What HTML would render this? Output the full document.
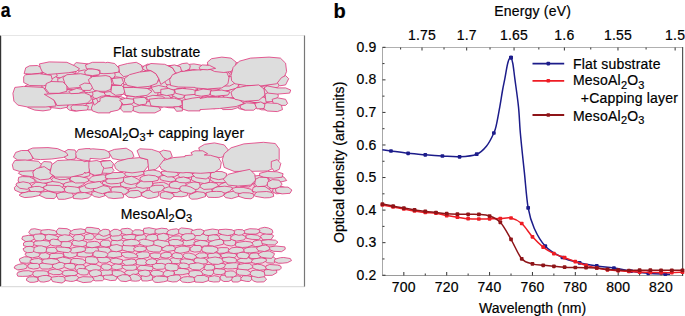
<!DOCTYPE html>
<html><head><meta charset="utf-8"><style>
html,body{margin:0;padding:0;background:#fff;width:685px;height:316px;overflow:hidden}
svg{display:block}
text{font-family:"Liberation Sans",sans-serif;font-size:14px;letter-spacing:0.2px;fill:#000;stroke:#000;stroke-width:0.2px}
</style></head><body>
<svg width="685" height="316" viewBox="0 0 685 316">
<text transform="translate(0.7,17.4) scale(0.88,1)" style="font-weight:bold;font-size:20px">a</text><path d="M0.6,35.5V286.6" stroke="#333" stroke-width="1.2"/><path d="M0.8,35.5H304.5" stroke="#e6e6e6" stroke-width="1"/><path d="M0.8,286.6H304.5" stroke="#ddd" stroke-width="1.2"/><path d="M304.5,35.5V286.6" stroke="#777" stroke-width="1.2"/><path d="M14.6,187.7 15.1,190.1 20.0,192.6 20.2,193.9 19.5,195.0 20.9,196.2 24.8,197.4 32.0,196.8 39.2,195.2 46.0,198.1 54.0,198.4 55.5,197.1 56.6,197.0 57.7,197.6 58.5,199.1 64.6,199.1 72.0,197.3 73.0,197.6 73.6,198.3 81.7,198.9 88.6,197.8 90.9,195.4 92.0,195.0 94.3,196.3 99.3,197.3 105.7,195.6 108.4,197.6 114.0,198.4 123.0,197.6 123.8,195.6 125.2,194.9 126.2,195.2 128.4,197.0 134.0,197.7 141.8,195.9 147.9,198.2 151.2,198.0 159.1,196.0 160.2,196.4 160.8,197.5 170.3,199.0 174.1,196.3 181.8,196.6 187.6,195.5 188.7,195.9 189.3,197.3 191.8,199.0 197.1,198.8 206.3,196.0 207.5,196.3 208.3,197.1 214.9,197.3 218.8,197.1 223.2,195.7 224.4,196.1 225.6,197.4 231.5,198.4 238.6,196.3 245.0,198.2 250.9,198.6 254.9,196.1 264.5,197.7 269.3,197.5 273.5,196.2 273.4,194.5 274.4,193.3 275.4,193.2 276.5,193.6 282.1,193.1 286.4,191.1 287.9,188.8 282.1,186.7 275.5,187.9 274.0,187.2 273.4,183.5 274.3,182.0 275.3,181.8 277.8,182.2 286.4,180.4 283.9,177.3 278.0,175.4 268.5,176.4 267.9,177.2 266.8,177.4 260.5,175.5 252.8,176.4 249.8,178.0 244.3,175.9 233.1,176.7 227.6,178.4 226.6,178.0 225.9,177.0 226.4,173.6 222.0,171.8 215.3,171.6 210.9,173.2 203.9,171.3 196.3,171.9 192.9,173.5 187.1,171.9 180.9,172.3 178.6,173.8 177.6,173.5 175.9,172.0 168.3,170.9 160.6,172.0 152.9,170.0 148.8,170.4 143.4,171.8 139.6,169.9 128.3,171.2 124.4,173.1 123.0,172.7 113.2,172.8 108.4,174.2 106.8,173.3 106.7,171.1 101.5,170.2 95.6,170.6 91.9,173.9 90.7,173.7 89.9,172.9 84.7,172.2 76.8,173.0 73.6,175.5 72.6,175.8 71.2,175.2 70.5,173.1 67.0,172.2 61.5,171.7 56.0,172.8 49.5,170.6 40.8,170.7 38.2,172.0 32.9,170.8 25.5,170.4 20.0,171.8 18.7,173.3 20.5,174.4 20.9,176.1 20.1,177.0 18.9,177.4 18.1,182.3 17.0,183.2 15.9,186.2 14.6,187.7Z" fill="#f2d2de"/><path d="M14.3,267.9 17.7,269.7 18.3,270.5 18.4,271.7 17.1,274.1 18.0,276.0 25.9,276.3 26.9,277.5 26.7,280.2 29.8,282.1 33.9,282.1 38.7,280.9 40.2,281.6 43.9,281.9 49.3,280.8 50.9,279.9 52.0,280.3 52.7,281.3 62.0,282.8 65.8,280.5 70.5,281.2 73.4,281.1 76.1,280.2 83.3,282.4 91.0,281.8 92.6,280.4 93.5,280.1 95.5,280.7 102.5,280.5 103.8,279.2 104.9,278.9 110.8,280.4 115.7,280.0 116.3,279.1 117.5,278.6 118.5,279.0 121.0,280.9 125.9,281.4 130.1,280.0 131.7,280.7 135.6,281.0 139.1,280.6 140.6,279.7 141.6,279.9 142.3,280.7 147.1,280.8 151.9,279.8 153.1,280.2 154.6,282.0 158.1,282.3 167.3,280.7 172.8,281.8 176.7,281.5 179.6,279.9 180.6,280.2 182.5,281.8 187.5,282.4 190.2,282.3 193.8,281.4 195.2,281.9 203.0,282.2 208.2,280.6 213.8,281.8 218.7,281.6 221.1,280.2 224.0,281.3 228.8,281.2 230.9,280.3 232.0,280.7 232.7,281.8 238.1,281.8 241.4,280.2 246.3,281.2 249.3,281.3 250.9,280.1 251.9,279.8 254.0,281.0 257.0,281.9 263.5,281.7 264.7,281.1 266.3,279.1 265.0,277.3 265.5,275.6 266.7,275.2 272.2,275.1 276.6,272.6 276.6,271.2 277.1,270.3 279.5,269.7 281.1,268.0 280.0,265.0 280.6,263.4 287.3,262.5 291.2,260.5 290.2,258.7 283.7,257.7 280.4,257.9 276.1,258.9 273.7,257.4 273.4,255.9 274.8,251.7 276.0,251.2 281.4,251.5 285.1,249.1 284.8,247.1 277.4,246.4 276.3,245.8 275.8,244.9 275.9,243.9 277.6,242.2 275.5,240.4 272.7,240.0 271.9,238.9 272.1,237.7 273.4,235.9 272.1,234.3 272.2,233.3 272.7,232.5 272.0,229.9 268.4,228.2 264.7,227.5 260.7,228.4 258.2,229.6 249.8,228.9 244.0,230.6 242.6,230.0 237.7,229.7 233.5,230.6 232.0,230.0 225.8,229.4 218.1,230.0 212.5,229.2 204.2,230.9 200.5,229.4 197.2,229.5 193.6,230.4 192.2,229.6 188.9,228.9 181.4,228.1 178.7,229.6 176.7,229.0 171.7,229.5 169.0,230.3 168.0,230.0 167.0,229.0 161.7,228.4 156.3,229.4 149.1,227.9 144.1,228.5 143.4,230.0 142.3,230.6 139.7,230.0 135.0,230.0 133.2,231.0 132.2,230.7 130.3,229.1 127.7,228.5 121.6,229.1 120.8,230.1 119.8,230.5 117.4,229.6 114.1,229.5 110.7,231.3 109.7,231.0 108.9,230.1 105.8,229.5 103.2,229.6 101.6,230.5 100.6,230.6 99.7,230.1 98.8,228.8 91.0,227.6 86.8,227.6 85.7,229.2 84.8,229.7 80.8,229.0 73.9,229.8 71.5,230.9 67.0,228.9 58.8,228.4 56.8,230.7 55.6,231.1 48.7,229.7 41.3,230.4 34.7,228.9 31.0,229.4 28.9,232.4 29.6,233.8 28.8,235.3 22.8,236.6 22.1,239.0 24.0,240.2 24.5,241.5 23.7,243.1 23.7,245.4 24.5,246.2 24.6,247.3 24.2,248.2 23.2,248.9 25.4,252.5 25.1,254.2 25.4,255.7 24.6,256.8 19.9,258.9 19.6,260.0 20.8,262.5 20.5,263.6 19.7,264.3 15.4,266.0 14.3,267.9Z" fill="#f2d2de"/><g fill="#dddddd" stroke="#e0347a" stroke-width="0.8" stroke-linejoin="round"><path d="M60.3,108.7 49.7,107.4 46.0,104.7 48.0,102.1 56.1,100.5 63.8,101.0 68.0,105.0 67.5,107.2Z"/><path d="M181.6,104.5 177.2,103.5 171.9,102.2 171.5,100.0 172.1,96.9 176.4,93.9 181.1,94.6 184.5,96.1 186.2,100.1 186.9,102.4Z"/><path d="M264.8,91.2 261.1,89.5 258.7,86.9 261.8,83.0 273.3,81.2 277.4,81.5 281.4,83.1 277.3,87.6 271.3,89.7Z"/><path d="M245.9,75.8 242.6,78.0 235.2,78.3 228.4,77.0 227.0,73.6 231.9,71.7 237.0,71.3 244.4,73.5Z"/><path d="M186.5,88.9 193.0,87.7 200.4,90.0 201.2,93.9 196.3,97.0 186.4,97.3 183.7,92.9Z"/><path d="M174.5,81.9 184.0,83.1 186.7,85.1 186.5,87.8 182.5,90.0 171.3,89.8 168.2,88.7 165.2,85.1 167.6,83.1Z"/><path d="M124.6,92.3 120.2,96.3 111.6,96.9 104.5,94.7 104.5,91.1 111.8,88.3 118.3,88.8Z"/><path d="M160.6,71.1 162.3,68.3 167.3,66.1 173.1,65.6 178.3,66.6 178.8,69.5 176.7,71.2 170.1,73.5 164.3,73.9Z"/><path d="M133.9,86.3 136.5,84.0 145.3,83.0 150.1,84.7 150.8,87.6 144.3,89.7 134.5,90.2Z"/><path d="M220.5,65.9 225.6,64.8 229.5,65.3 233.2,68.1 232.9,71.0 229.7,73.4 225.1,73.7 221.0,71.3 219.2,69.1Z"/><path d="M149.7,77.7 155.1,75.3 157.1,76.3 162.2,77.7 162.9,80.8 161.4,83.2 158.3,84.7 153.2,83.4 149.9,83.0 149.1,79.8Z"/><path d="M253.7,102.8 262.7,101.2 269.5,103.2 273.5,106.7 271.4,110.1 261.4,109.8 253.9,106.4Z"/><path d="M35.4,94.6 40.0,96.2 40.9,100.3 39.6,102.4 33.5,104.4 27.4,103.7 25.0,101.0 25.5,97.9 27.5,94.9Z"/><path d="M255.6,95.5 262.6,96.0 267.1,99.8 266.9,103.1 260.8,103.3 251.7,102.1 246.6,98.9 249.0,96.7Z"/><path d="M82.9,72.1 76.3,70.2 73.3,65.3 76.2,62.6 87.9,63.9 92.9,68.4 91.8,70.9Z"/><path d="M201.3,65.2 205.0,68.6 205.2,70.7 201.8,73.7 193.6,72.0 189.2,70.8 189.1,68.1 189.5,64.3 193.9,63.9Z"/><path d="M146.1,76.5 150.5,78.2 150.3,80.9 148.3,83.0 140.5,82.9 136.1,82.5 132.1,80.7 131.9,78.4 132.8,75.6 140.4,76.5Z"/><path d="M34.8,97.2 26.7,96.7 25.3,95.2 24.5,90.5 29.4,88.3 36.6,87.8 40.5,88.4 42.4,91.0 43.5,93.8 39.8,96.0Z"/><path d="M94.0,73.1 91.0,71.5 90.8,68.9 94.8,64.9 98.4,64.7 103.1,65.4 105.3,67.4 103.3,70.6 98.3,73.1Z"/><path d="M113.8,102.6 110.3,99.1 109.4,96.6 114.3,96.2 120.5,96.5 125.3,98.4 129.7,101.0 127.3,102.9 126.1,104.6 120.2,103.7Z"/><path d="M67.6,65.5 76.0,67.5 76.0,73.1 70.7,74.3 58.6,72.6 54.8,69.3 58.0,64.6Z"/><path d="M255.8,79.7 254.7,83.3 247.0,86.2 240.7,86.0 235.6,83.5 236.3,79.5 240.8,77.2 248.7,78.1Z"/><path d="M195.9,102.8 188.3,102.6 185.9,100.4 184.1,97.2 185.3,94.3 193.5,93.9 199.3,95.0 201.7,95.7 204.0,98.8 201.4,102.6Z"/><path d="M96.4,98.5 92.1,97.8 89.1,93.9 89.1,91.3 94.5,89.5 96.8,89.7 103.4,91.7 105.2,94.5 105.1,97.2 101.4,99.3Z"/><path d="M135.5,87.0 134.6,88.1 131.7,89.8 128.6,89.9 122.3,88.2 120.6,85.6 121.1,83.4 125.3,82.2 128.5,82.5 133.7,84.1Z"/><path d="M229.0,99.7 228.9,97.0 236.5,96.8 246.1,98.4 249.2,100.6 244.0,103.7 237.8,103.9 229.5,101.9Z"/><path d="M73.6,102.4 73.7,99.1 79.5,96.2 83.8,96.4 93.5,96.9 92.7,98.7 92.4,102.4 85.4,104.8 80.8,105.1 75.2,104.3Z"/><path d="M127.0,78.9 118.3,78.9 113.6,76.6 112.9,73.0 117.6,71.6 127.5,71.6 132.6,74.2 130.6,77.6Z"/><path d="M95.2,76.2 93.2,79.3 86.2,79.1 81.6,78.0 76.1,74.8 77.3,73.2 79.4,71.0 84.4,69.9 93.0,72.1 94.7,74.2Z"/><path d="M101.5,96.2 110.1,95.4 110.6,99.6 109.2,104.3 99.9,105.2 94.3,103.5 93.8,99.8Z"/><path d="M99.3,91.7 98.5,89.5 97.6,85.6 102.2,83.3 106.3,83.0 111.8,84.0 113.8,86.6 113.4,89.7 110.3,91.5 103.2,92.5Z"/><path d="M190.3,65.6 189.7,68.8 185.0,71.3 180.8,72.5 177.0,70.2 177.1,65.8 182.2,63.6 187.2,63.0Z"/><path d="M219.0,83.8 226.3,81.4 235.4,81.2 239.0,84.2 237.4,87.7 232.1,89.8 224.0,91.4 217.7,90.8 215.9,86.8Z"/><path d="M27.7,105.1 28.9,103.0 37.2,102.1 40.8,102.8 48.8,106.0 51.2,108.9 49.6,109.9 43.0,110.9 34.8,110.1 27.8,107.5Z"/><path d="M144.6,76.7 141.6,78.5 138.3,79.9 133.1,78.6 130.1,75.9 130.6,73.8 132.5,71.4 139.6,71.0 143.2,72.7 144.8,73.7Z"/><path d="M185.7,85.0 179.1,83.4 176.8,79.4 176.7,76.8 183.9,75.8 193.5,76.7 198.6,77.6 199.0,80.8 197.6,83.1 193.6,84.5Z"/><path d="M120.8,84.4 114.8,82.1 109.3,78.8 116.1,76.8 122.9,77.8 131.9,82.0 131.6,85.0Z"/><path d="M62.6,71.2 71.9,72.0 77.8,74.9 76.5,79.1 67.7,79.3 55.4,77.0 55.4,73.0Z"/><path d="M60.4,97.2 65.9,94.5 70.3,94.5 75.1,99.2 73.3,102.1 67.9,104.1 62.0,103.6 60.4,100.4Z"/><path d="M94.9,74.9 94.8,71.9 98.0,69.1 103.7,68.9 111.6,70.0 114.7,72.5 115.2,75.4 113.3,78.4 102.1,77.4Z"/><path d="M214.8,77.7 219.2,81.2 218.7,84.3 207.3,84.5 199.7,81.8 195.8,78.3 204.7,76.6Z"/><path d="M96.6,84.1 89.9,86.2 80.7,87.1 78.3,86.2 77.0,81.7 77.5,79.7 84.1,76.7 93.9,76.5 97.4,77.4 100.1,81.1Z"/><path d="M241.3,102.8 247.9,101.1 256.1,103.2 257.0,105.0 253.1,108.5 244.3,110.0 238.7,108.6 237.5,105.2Z"/><path d="M136.0,73.3 130.2,72.2 130.0,67.8 132.4,66.0 136.3,65.5 144.3,66.3 146.2,68.8 145.2,72.7 140.7,74.3Z"/><path d="M149.2,104.7 145.0,104.2 140.2,101.3 139.3,97.8 144.9,97.2 149.8,96.5 155.3,100.0 156.4,102.3Z"/><path d="M89.2,89.3 92.5,91.1 93.0,95.2 87.3,97.9 79.0,97.8 74.8,96.6 73.7,93.4 76.7,90.3 82.6,89.4Z"/><path d="M88.4,92.7 84.7,92.3 84.5,89.2 85.3,86.4 90.4,84.5 95.8,84.0 98.9,84.8 101.5,87.0 98.6,89.7 95.1,91.4Z"/><path d="M116.4,72.4 109.7,72.6 104.2,72.0 101.2,70.5 101.9,66.0 106.2,63.7 110.0,63.9 114.8,64.9 118.0,67.7Z"/><path d="M224.9,77.8 230.4,76.5 234.6,77.8 237.0,80.5 236.9,82.2 229.7,86.0 222.9,86.0 216.8,85.9 215.7,84.2 218.4,80.9Z"/><path d="M221.3,108.4 219.7,106.2 220.3,103.1 227.5,101.3 233.8,101.8 238.1,102.9 239.6,105.6 238.3,107.5 231.9,109.5 223.1,109.6Z"/><path d="M262.0,97.1 255.3,93.9 255.3,91.7 266.2,88.4 273.2,89.0 277.8,92.3 271.7,95.9Z"/><path d="M259.9,72.3 260.6,74.6 257.6,77.8 251.4,77.6 246.4,76.4 244.9,74.1 243.5,71.7 245.3,69.7 251.7,69.6 254.9,70.1Z"/><path d="M40.9,83.4 44.7,85.6 42.5,88.7 40.0,90.6 34.9,92.3 26.9,90.9 26.9,88.9 25.0,86.0 30.4,83.5 36.7,83.1Z"/><path d="M198.6,87.6 194.6,90.7 186.5,91.3 184.4,86.4 185.6,83.7 193.8,81.8 198.4,82.5Z"/><path d="M135.7,93.7 139.9,96.0 143.3,99.1 138.5,102.1 132.4,102.9 128.7,101.2 126.8,98.8 126.7,96.4 130.3,94.8Z"/><path d="M229.1,98.1 231.4,101.3 230.8,102.9 227.5,104.5 222.8,105.0 219.0,102.1 217.7,100.1 218.9,96.7 222.0,95.1 225.5,95.5Z"/><path d="M68.2,86.7 73.8,83.9 83.8,84.8 86.0,88.1 82.2,91.1 75.7,91.9 68.3,89.9Z"/><path d="M253.0,85.0 254.3,82.3 256.8,79.0 266.7,77.6 272.5,78.7 271.7,82.7 267.4,85.4 262.4,86.4Z"/><path d="M274.2,68.2 267.5,71.9 261.1,73.1 255.5,71.2 254.1,68.9 262.0,65.2 270.2,63.5 272.9,66.1Z"/><path d="M179.8,80.6 176.3,83.7 173.0,84.7 165.4,84.7 161.7,81.7 162.7,77.6 166.8,75.0 174.3,75.6 177.8,77.8Z"/><path d="M160.0,91.5 159.3,94.3 152.5,97.7 147.8,98.4 141.5,96.6 138.3,92.5 142.7,89.8 148.1,88.4 153.8,89.0Z"/><path d="M143.5,103.1 144.7,104.3 145.8,106.9 135.9,109.9 127.7,110.6 123.0,108.4 120.7,107.2 126.4,103.6 137.5,101.9Z"/><path d="M45.6,78.7 48.0,76.2 55.2,75.7 58.2,78.9 59.6,82.2 53.6,84.9 48.1,85.0 45.2,81.7Z"/><path d="M190.0,76.9 185.5,77.1 182.4,75.9 181.8,73.5 186.1,70.6 194.0,69.6 199.6,70.9 200.9,73.2 198.1,75.4Z"/><path d="M197.0,89.1 198.9,85.2 204.3,83.8 212.7,83.4 217.7,84.5 221.4,86.8 219.2,89.5 212.1,92.1 206.7,92.4 199.1,90.8Z"/><path d="M110.3,87.3 109.5,83.4 113.1,81.7 117.7,81.3 123.3,82.5 123.8,84.4 123.5,87.9 119.1,90.8 116.6,90.7 110.9,89.1Z"/><path d="M252.2,97.0 244.5,97.1 241.8,96.9 241.0,92.4 241.4,90.0 247.7,89.1 253.8,88.7 256.4,89.6 256.7,92.4 255.8,94.8Z"/><path d="M222.0,95.4 224.4,91.7 232.8,89.2 242.4,88.9 243.3,91.0 243.8,95.7 233.8,97.5 226.4,98.6Z"/><path d="M161.2,69.7 166.8,68.3 172.8,68.5 181.9,70.3 184.0,74.1 184.0,76.5 178.3,78.3 172.9,78.2 164.5,77.4 162.0,74.0Z"/><path d="M114.4,81.0 113.2,84.6 104.1,85.6 97.9,84.4 98.4,79.7 103.0,78.2 109.4,77.6Z"/><path d="M213.8,71.8 213.8,75.6 211.1,77.9 204.2,78.8 198.2,76.6 199.6,73.0 203.9,70.4 210.8,69.3Z"/><path d="M109.7,109.1 102.5,108.2 103.8,104.2 108.3,101.1 117.1,101.1 123.6,105.0 120.8,108.8Z"/><path d="M55.3,85.1 54.1,88.3 46.2,90.3 42.4,89.4 41.7,84.9 45.6,82.1 51.7,81.9Z"/><path d="M41.1,77.3 40.2,74.6 45.6,71.0 52.9,69.7 55.8,72.0 57.3,75.8 52.7,78.5 44.6,79.6Z"/><path d="M253.2,85.0 260.2,87.7 260.5,91.0 253.5,92.3 245.5,91.7 238.9,87.4 238.7,84.6 243.1,83.1Z"/><path d="M155.9,81.0 164.0,80.6 167.2,85.7 163.3,90.0 157.6,91.2 151.6,88.0 151.2,84.9Z"/><path d="M217.3,63.6 221.1,66.3 220.6,68.0 216.7,71.2 211.6,71.7 208.9,72.3 204.6,69.0 204.8,68.0 206.9,64.9 212.9,63.9Z"/><path d="M93.7,102.8 104.3,102.8 104.5,106.3 100.0,109.9 88.2,109.9 85.1,108.0 84.0,104.0Z"/><path d="M186.5,108.6 181.9,107.4 177.5,104.9 181.3,102.2 186.9,101.1 193.8,100.3 201.1,103.8 198.5,105.4 195.8,108.0Z"/><path d="M84.2,102.1 87.0,103.1 84.2,108.0 81.0,110.2 75.1,111.2 69.3,110.1 66.8,108.0 68.9,103.8 78.5,101.0Z"/><path d="M165.8,105.2 161.4,107.8 155.5,109.1 147.9,109.2 142.1,107.0 142.4,104.2 146.9,101.9 152.2,100.9 158.2,99.8 164.2,101.5Z"/><path d="M123.5,66.3 128.6,67.1 132.4,69.1 131.3,71.0 130.7,72.6 124.6,72.9 119.2,72.2 117.7,71.3 116.8,69.3 118.0,66.9Z"/><path d="M26.9,71.7 30.4,71.0 36.5,70.9 42.0,73.2 41.2,76.1 38.4,78.7 33.7,79.4 27.8,77.4 26.6,75.0Z"/><path d="M63.4,84.7 67.0,85.1 68.3,87.8 66.6,90.2 63.1,91.5 56.8,91.7 54.7,90.4 52.8,88.6 54.8,85.8 58.0,84.4Z"/><path d="M63.6,84.6 58.0,82.2 57.6,79.3 63.6,76.2 74.3,75.4 80.7,77.8 79.7,80.6 73.0,83.1Z"/><path d="M123.9,87.5 133.5,87.3 138.6,89.1 141.1,95.0 133.7,96.4 125.3,95.5 121.7,91.7Z"/><path d="M45.4,97.1 39.9,92.6 43.7,88.6 49.2,88.7 57.1,91.3 57.8,94.5 53.5,97.9Z"/><path d="M61.5,100.1 60.3,102.7 53.7,103.1 46.4,103.1 36.9,100.1 37.0,96.8 44.5,94.9 50.1,95.2 58.5,96.5Z"/><path d="M172.7,96.9 166.9,99.0 161.4,99.2 157.8,94.7 158.1,92.1 165.6,89.9 170.1,90.0 174.3,92.9Z"/><path d="M147.7,72.0 142.1,68.5 143.8,66.1 147.6,64.1 156.7,65.1 162.1,66.6 163.4,70.5 159.6,72.4 152.8,72.3Z"/><path d="M154.8,102.1 153.6,99.1 156.7,95.4 161.9,94.5 167.3,94.7 170.8,97.2 170.2,100.3 164.2,102.8 156.8,103.9Z"/><path d="M200.0,106.1 200.1,103.1 203.3,101.2 209.2,100.7 218.1,102.8 221.6,104.7 218.7,106.8 214.5,108.7 205.7,107.8Z"/><path d="M218.6,95.2 218.5,99.0 218.3,101.7 209.7,104.1 205.0,104.6 200.5,102.3 200.8,97.9 204.7,96.2 212.0,95.0Z"/><path d="M164.7,106.6 162.0,103.7 164.0,101.2 170.9,101.3 178.6,101.8 180.9,103.6 179.8,106.8 174.5,108.0 168.4,107.7Z"/><path d="M213.8,75.8 214.6,71.6 218.2,70.0 227.5,71.3 230.2,74.6 228.1,78.4 218.9,77.8Z"/><path d="M186.3,92.7 183.1,98.1 178.0,98.6 171.9,95.4 171.4,92.0 177.2,88.6 184.1,88.2Z"/><path d="M162.0,73.9 162.2,75.4 158.9,78.7 153.8,78.8 146.4,78.1 141.8,75.0 143.1,71.6 146.7,70.7 153.7,70.8Z"/><path d="M57.5,92.2 63.5,89.8 72.1,89.5 74.7,91.3 75.2,94.8 70.6,97.1 61.8,97.8 55.9,95.9Z"/><path d="M220.3,95.0 216.1,96.3 208.8,96.7 199.7,93.9 199.8,92.5 204.8,89.1 209.9,88.9 217.1,89.1 222.0,91.4Z"/><path d="M241.8,62.6 249.2,63.4 254.0,65.4 256.2,69.0 254.5,71.3 247.9,71.5 239.0,71.1 233.5,68.9 233.3,66.6 233.2,62.9Z"/><path d="M46.6,83.1 38.0,83.6 31.4,82.5 28.5,80.9 27.5,77.7 31.9,75.7 38.7,76.0 44.2,77.2 46.6,80.6Z"/><path d="M24.1,73.7 31.6,74.1 39.4,73.3 43.7,72.1 42.4,68.2 37.5,65.5 29.6,65.8 25.7,67.8Z"/><path d="M39.4,63.9 40.4,67.8 42.4,72.1 47.3,74.5 57.1,73.7 68.8,72.7 76.7,71.3 79.6,68.8 74.7,65.8 66.9,62.3 49.2,61.9Z"/><path d="M23.7,76.6 23.7,82.5 29.6,85.5 43.3,85.8 49.2,84.5 52.2,79.6 51.2,75.3 39.4,73.7 25.7,74.7Z"/><path d="M12.9,93.3 13.9,101.1 17.8,105.1 27.6,107.0 45.3,107.0 56.1,106.0 54.1,100.2 49.2,95.3 43.3,87.4 23.7,86.4 14.9,87.4Z"/><path d="M44.3,94.3 54.1,100.2 57.1,105.5 74.7,104.7 87.5,103.1 91.4,99.2 90.4,95.3 84.5,92.9 59.0,93.3Z"/><path d="M46.3,83.5 45.3,88.4 49.2,93.3 59.0,93.3 66.9,91.3 66.9,85.5 62.9,81.9 51.2,81.5Z"/><path d="M62.9,77.6 64.9,83.5 68.8,88.4 80.6,87.4 88.4,85.5 92.4,80.5 90.4,75.6 80.6,73.7 66.9,74.7Z"/><path d="M84.5,71.7 85.5,74.7 92.4,75.6 99.2,74.7 100.2,71.7 96.3,68.8 88.4,68.8Z"/><path d="M86.5,68.8 92.4,68.8 100.0,70.3 100.0,73.3 103.9,73.7 111.8,73.3 118.6,72.1 119.6,68.8 114.7,63.5 107.8,62.3 105.5,62.7 104.1,62.3 92.4,62.3 85.5,64.9Z"/><path d="M90.4,85.5 94.3,90.4 100.0,91.3 105.9,91.3 110.8,89.4 111.8,83.5 110.8,77.6 110.0,77.3 110.0,76.6 105.9,75.6 92.4,76.6 88.4,79.6Z"/><path d="M68.8,91.3 70.8,93.7 78.6,93.3 84.5,91.3 82.5,89.4 76.7,88.4Z"/><path d="M79.6,85.5 82.5,90.4 90.4,90.4 92.4,87.4 90.4,83.5 84.5,83.1Z"/><path d="M70.8,107.0 71.8,110.0 76.7,110.9 87.5,110.0 88.4,106.0 82.5,105.1 72.7,105.1Z"/><path d="M100.0,101.3 93.3,103.1 91.4,108.0 92.4,110.9 98.2,112.9 110.0,112.9 110.0,111.9 118.6,110.0 121.6,105.1 122.5,99.2 117.6,97.2 105.9,96.2 100.0,98.2Z"/><path d="M92.4,100.2 94.3,105.1 98.2,102.1 96.3,98.2Z"/><path d="M118.6,65.8 119.6,72.7 123.5,76.6 129.4,75.6 139.2,72.7 143.1,69.8 141.2,64.9 136.3,62.3 127.5,63.5Z"/><path d="M124.5,78.6 124.5,81.5 127.5,85.5 137.3,87.4 149.0,86.4 156.9,83.5 158.8,78.6 155.9,73.7 151.0,70.7 139.2,72.1 129.4,74.7Z"/><path d="M146.1,65.8 147.1,69.8 151.0,70.7 155.9,73.7 158.8,78.6 160.8,84.5 166.7,80.5 172.5,76.6 175.5,72.7 172.5,67.8 164.7,64.3 151.0,63.5Z"/><path d="M168.6,65.8 172.5,67.8 175.5,72.7 178.4,73.7 181.4,70.7 180.4,66.8 174.5,64.9Z"/><path d="M170.6,85.5 178.4,87.0 195.0,87.4 195.0,87.9 207.4,89.0 221.8,87.9 227.9,83.8 229.0,77.6 226.9,72.5 219.7,69.8 203.2,69.4 200.0,70.2 200.0,69.8 192.2,70.2 180.4,71.7 172.5,74.7 169.6,79.6Z"/><path d="M111.8,78.6 113.7,84.5 120.6,85.5 123.5,82.5 121.6,77.6Z"/><path d="M111.8,85.5 110.8,92.3 115.7,95.3 123.5,94.3 125.5,89.4 121.6,85.5Z"/><path d="M123.5,87.4 125.5,95.3 135.3,96.8 147.1,95.3 152.0,91.3 147.1,88.4 133.3,87.4Z"/><path d="M151.0,87.4 154.9,92.9 164.7,92.3 170.6,90.4 167.6,87.4 158.8,85.5Z"/><path d="M160.8,89.4 160.8,94.3 166.7,95.6 174.1,94.3 174.5,90.4 168.6,88.4Z"/><path d="M174.5,89.4 175.5,93.3 184.3,95.3 196.1,94.3 198.0,91.3 192.2,89.4 182.4,88.4Z"/><path d="M119.6,100.2 123.5,104.7 131.4,104.1 134.3,102.1 133.3,99.2 125.5,98.2Z"/><path d="M133.3,98.2 134.3,103.1 139.2,105.1 146.1,104.1 147.1,100.2 144.1,97.2Z"/><path d="M146.1,97.2 148.0,100.2 154.9,100.2 164.7,98.2 162.7,96.2 152.9,95.3Z"/><path d="M149.0,99.2 151.0,106.0 162.7,107.0 177.5,107.0 182.4,105.1 181.4,100.2 174.5,98.2 158.8,98.2Z"/><path d="M121.6,105.1 120.6,109.0 123.5,111.9 131.4,111.9 135.3,108.0 131.4,104.1Z"/><path d="M133.3,107.0 133.3,110.9 139.2,112.9 154.9,112.9 160.8,110.0 158.8,107.0 149.0,106.0 141.2,105.1Z"/><path d="M173.5,107.0 176.5,111.3 182.4,110.9 182.4,108.0 178.4,106.6Z"/><path d="M200.0,109.6 219.7,108.5 236.2,106.5 244.4,103.4 238.2,99.3 225.9,97.2 207.4,97.2 200.0,98.4 200.0,97.2 192.2,98.2 182.4,100.2 182.4,109.0 188.2,110.9 200.0,110.9Z"/><path d="M207.4,62.2 208.4,68.4 214.6,71.5 223.8,72.5 231.0,71.5 235.1,67.4 236.2,62.2 231.0,58.1 221.8,57.1 211.5,58.7Z"/><path d="M199.1,67.4 200.1,69.4 207.4,69.8 215.6,68.4 209.4,65.3 202.2,64.9Z"/><path d="M231.0,75.6 231.6,80.7 235.1,83.8 246.5,85.5 260.9,85.9 276.3,83.8 283.5,78.7 286.6,71.5 285.6,63.2 280.4,58.1 269.1,57.1 250.6,58.1 239.3,61.2 233.1,67.4Z"/><path d="M231.0,92.1 232.1,96.2 235.1,99.3 244.4,101.3 258.8,100.3 265.0,95.1 264.0,89.0 258.8,84.9 246.5,85.9 236.2,87.9Z"/><path d="M265.0,94.1 266.0,101.9 274.3,101.3 278.4,96.2 277.4,92.1 269.1,92.1Z"/><path d="M264.0,87.9 268.1,93.1 277.4,94.1 289.7,93.1 290.7,90.0 285.6,87.9 277.4,87.9 267.1,85.9Z"/><path d="M277.4,82.8 279.4,85.9 285.6,84.9 288.7,78.7 285.6,75.6 281.5,77.6Z"/><path d="M272.2,99.3 273.2,103.4 279.4,105.4 285.6,105.4 287.6,103.4 285.6,99.3 277.4,97.8Z"/><path d="M262.9,104.4 262.9,108.1 267.1,111.0 277.4,111.6 282.5,109.6 281.5,105.4 277.4,103.4 267.1,102.8Z"/><path d="M240.3,105.4 240.3,108.1 245.4,110.2 253.7,110.2 256.8,107.5 254.7,103.4 246.5,102.8Z"/><path d="M254.7,103.4 256.8,108.9 264.0,108.5 265.0,104.4 260.9,101.9Z"/><path d="M195.0,91.0 195.0,95.1 201.2,96.2 209.4,95.1 211.5,90.0 203.2,89.0Z"/><path d="M210.4,91.0 210.4,95.1 215.6,96.2 227.9,95.1 230.0,92.1 221.8,90.0Z"/><path d="M102.9,181.6 109.6,180.1 120.6,181.7 122.2,184.0 119.8,186.7 111.5,187.0 101.9,183.9Z"/><path d="M225.5,197.6 223.5,195.2 227.1,192.5 234.7,190.9 239.1,193.4 238.9,196.3 231.5,198.6Z"/><path d="M143.2,171.7 148.8,170.2 152.9,169.8 159.7,171.5 162.0,174.9 162.3,176.6 156.0,177.3 149.6,176.9 144.3,176.3 143.9,173.2Z"/><path d="M22.5,185.2 29.7,187.0 30.6,189.7 26.0,192.5 20.3,192.6 14.9,190.2 14.3,187.7 16.6,185.2Z"/><path d="M40.7,170.5 49.5,170.4 54.8,172.0 54.3,174.2 52.5,177.0 48.7,177.1 40.8,176.5 38.3,174.6 38.8,171.8Z"/><path d="M143.9,174.1 137.6,176.4 131.3,176.9 126.2,176.0 124.4,174.6 125.4,172.4 128.3,171.1 136.0,170.0 139.7,169.7 143.7,172.1Z"/><path d="M128.0,189.9 133.3,186.8 142.5,185.5 145.7,186.8 148.0,188.7 145.2,191.4 138.3,193.7 131.2,194.0 128.8,191.1Z"/><path d="M57.2,195.6 54.1,198.6 45.9,198.3 38.6,195.0 41.0,192.2 48.1,191.2 56.5,193.3Z"/><path d="M62.3,177.4 69.0,178.3 70.2,181.0 70.3,182.4 64.4,184.0 59.4,184.2 51.7,181.5 51.4,179.8 53.6,177.5Z"/><path d="M28.1,183.7 20.6,183.3 18.0,181.1 18.7,177.3 22.4,176.6 29.3,176.8 34.2,179.2 35.4,181.9Z"/><path d="M157.8,196.7 151.3,198.2 147.8,198.4 142.0,196.0 141.3,193.7 145.7,190.9 149.3,190.3 156.3,190.4 158.7,192.6 158.7,194.6Z"/><path d="M174.2,196.5 172.2,193.1 175.9,191.4 183.6,190.8 188.0,193.0 186.9,195.8 181.8,196.8Z"/><path d="M124.4,187.3 120.7,185.8 120.6,183.0 123.9,181.2 131.7,181.3 136.6,182.1 137.8,184.7 136.1,187.7 131.0,188.3Z"/><path d="M35.8,182.4 42.0,181.8 47.4,184.2 44.6,187.6 37.1,188.8 32.7,188.4 31.5,185.5Z"/><path d="M244.0,194.1 235.0,192.7 232.0,189.2 232.6,187.4 243.2,187.4 250.9,189.2 253.5,192.2 251.5,194.7Z"/><path d="M212.0,189.8 212.6,192.5 203.3,193.9 194.6,191.2 193.7,188.7 200.2,185.2 209.3,186.7Z"/><path d="M23.1,181.8 28.8,182.9 31.1,185.0 32.0,187.5 27.1,189.3 19.9,188.3 15.9,185.0 16.8,183.1Z"/><path d="M278.0,175.2 284.0,177.1 286.7,180.5 282.1,181.7 277.8,182.4 271.9,181.4 268.8,179.2 268.4,176.2 273.6,175.5Z"/><path d="M177.3,175.1 180.8,172.1 187.1,171.7 194.0,173.8 193.3,176.8 187.8,177.6 180.2,177.4Z"/><path d="M210.3,177.4 216.8,176.5 222.5,177.6 228.2,180.0 226.0,182.4 222.1,182.7 214.9,182.6 210.1,180.0Z"/><path d="M236.8,186.6 234.3,187.9 228.0,188.8 223.6,188.0 218.4,186.3 220.0,184.3 225.4,182.2 233.0,182.5 236.5,184.5Z"/><path d="M175.0,178.4 176.0,180.7 170.5,181.8 164.1,180.8 160.2,179.5 159.9,176.1 164.7,175.3 171.7,176.4Z"/><path d="M91.8,174.1 95.5,170.4 101.5,170.0 106.9,171.0 106.7,173.7 104.5,176.1 98.5,177.3 94.4,176.6Z"/><path d="M156.3,188.3 151.9,186.8 152.8,185.1 153.2,183.3 158.6,182.6 163.3,182.2 168.3,184.5 170.3,186.8 167.1,189.4 162.7,189.4Z"/><path d="M97.1,190.8 100.3,191.5 105.0,193.6 105.1,195.7 99.3,197.5 94.2,196.5 91.7,194.5 91.8,192.3Z"/><path d="M116.5,175.9 122.8,176.4 124.0,178.6 122.9,181.9 118.6,183.4 110.9,183.9 106.5,183.0 105.6,180.6 108.8,178.1Z"/><path d="M36.2,192.5 30.9,191.7 28.3,187.9 34.7,186.5 39.3,186.4 44.3,188.3 43.9,190.9Z"/><path d="M128.8,190.7 125.4,194.2 119.0,194.2 116.1,194.1 111.1,192.4 111.0,188.0 113.9,187.1 122.2,186.8 126.0,188.5Z"/><path d="M94.9,186.3 95.4,188.6 94.6,190.2 90.4,191.9 84.2,193.0 79.6,191.5 78.7,189.6 78.9,187.9 84.9,185.3 88.6,185.4Z"/><path d="M68.3,187.2 62.5,185.9 64.9,183.0 69.9,181.8 79.7,181.6 84.7,183.0 82.4,185.3 76.3,188.1Z"/><path d="M212.3,190.8 213.3,188.4 217.0,186.9 224.8,186.2 231.5,187.1 232.3,188.6 229.5,191.3 225.7,192.9 220.5,193.1 214.1,193.4Z"/><path d="M34.1,175.9 42.4,175.1 48.7,176.2 52.4,180.7 51.0,182.8 42.9,183.1 37.3,181.9 32.7,177.4Z"/><path d="M153.3,192.5 149.7,190.3 149.2,189.1 149.6,186.4 155.9,185.3 162.9,185.3 164.4,187.7 163.4,189.5 160.4,191.6Z"/><path d="M38.5,195.6 32.1,197.0 24.8,197.6 20.8,196.3 19.1,195.0 22.2,193.0 28.5,191.6 35.6,191.4 40.0,192.1 41.3,193.3Z"/><path d="M165.8,191.7 162.5,190.3 164.0,188.4 168.4,186.9 173.3,186.3 180.7,188.0 180.7,189.8 180.3,190.9 176.9,192.6 172.0,192.5Z"/><path d="M252.5,183.8 251.3,185.7 248.9,187.0 240.3,186.2 238.6,183.6 238.3,181.0 244.2,180.5 248.6,181.3Z"/><path d="M98.7,192.8 93.9,191.1 93.2,188.6 96.6,186.1 102.0,185.3 108.8,186.8 110.8,190.5 109.6,191.6 102.4,193.7Z"/><path d="M203.4,183.1 210.9,182.3 216.9,183.3 218.5,185.9 212.0,189.0 203.9,189.4 198.8,186.2Z"/><path d="M174.1,181.5 181.5,180.7 186.3,183.6 185.6,185.9 183.4,188.0 177.7,188.6 170.3,187.7 169.3,185.1 169.9,183.0Z"/><path d="M197.1,199.0 191.8,199.2 189.1,197.4 189.2,194.8 197.0,191.6 204.3,192.5 205.5,194.9 205.5,196.6Z"/><path d="M190.2,179.0 190.6,181.7 185.9,182.9 179.3,182.5 175.4,180.6 176.6,178.2 183.6,176.9Z"/><path d="M101.1,181.5 95.3,182.3 89.5,181.0 88.6,179.9 92.1,176.3 95.1,175.7 103.0,174.7 107.6,175.7 106.4,177.4 106.4,179.5Z"/><path d="M248.7,181.7 248.8,178.7 252.8,176.2 260.5,175.3 266.7,177.3 267.7,179.6 259.8,182.8 252.9,183.8Z"/><path d="M160.6,193.2 162.7,192.2 165.5,191.6 170.2,192.8 173.9,194.4 173.8,196.6 170.3,199.2 165.0,198.6 160.7,197.7 160.1,196.0Z"/><path d="M81.9,177.9 73.9,178.8 72.2,176.4 76.8,172.8 84.7,172.0 90.1,172.7 89.6,175.7Z"/><path d="M288.2,188.7 286.5,191.2 282.1,193.3 276.5,193.8 272.8,192.0 272.6,189.6 275.8,187.7 282.2,186.5Z"/><path d="M56.4,194.0 61.0,192.3 69.5,191.9 71.8,192.7 73.8,196.0 71.7,197.5 64.7,199.3 58.4,199.3 56.7,196.1Z"/><path d="M46.9,182.8 52.5,181.5 59.4,182.4 63.9,184.8 61.5,189.0 55.4,188.6 46.7,186.1Z"/><path d="M262.7,182.0 269.7,182.9 274.0,184.7 273.7,187.3 268.2,189.3 258.9,188.4 254.4,186.5 253.8,184.3 255.5,182.0Z"/><path d="M113.9,198.6 108.4,197.8 103.9,194.0 107.3,192.5 113.6,191.9 121.8,192.6 123.8,196.0 123.1,197.8Z"/><path d="M134.0,197.9 128.3,197.2 125.2,194.5 130.7,190.8 138.0,190.4 141.1,192.5 141.4,196.1Z"/><path d="M125.8,175.3 123.1,177.6 116.0,178.6 108.3,178.8 105.2,177.9 106.1,174.8 113.2,172.6 117.0,172.5 123.1,172.5Z"/><path d="M205.6,176.2 209.9,179.4 209.2,182.3 204.3,183.5 196.2,182.2 191.4,179.9 191.7,176.4 197.6,175.6Z"/><path d="M231.8,183.5 229.3,181.1 228.9,177.6 233.1,176.5 244.3,175.7 249.5,177.8 248.1,179.9 242.9,183.1Z"/><path d="M65.4,179.5 60.1,179.7 54.7,178.1 53.5,175.3 56.9,172.4 61.5,171.5 67.1,172.0 70.6,173.0 71.8,176.6 71.3,177.9Z"/><path d="M253.8,196.9 251.0,198.8 245.0,198.4 239.0,196.5 238.0,194.0 242.8,192.7 249.5,192.9 253.7,194.1Z"/><path d="M206.1,179.0 195.8,177.7 192.0,174.1 196.2,171.7 203.9,171.1 210.9,173.1 210.5,176.0Z"/><path d="M188.4,183.1 193.9,182.0 199.1,182.7 200.3,186.1 198.2,189.1 191.8,190.0 185.7,188.7 185.0,186.5Z"/><path d="M224.5,193.5 223.2,195.8 218.9,197.3 214.9,197.5 208.2,197.3 206.6,195.3 205.9,192.8 210.7,191.6 216.4,191.4 221.8,191.6Z"/><path d="M195.7,189.8 195.9,191.3 191.1,193.5 188.6,193.2 182.4,191.9 179.7,190.0 180.1,186.9 182.3,185.8 186.7,185.8 190.9,187.1Z"/><path d="M84.7,192.5 91.9,194.7 88.7,197.9 81.7,199.1 73.4,198.5 73.1,195.8 77.6,193.0Z"/><path d="M261.0,193.5 252.3,191.3 253.1,187.5 256.7,186.2 265.1,186.6 270.6,190.3 272.0,192.5 266.4,194.2Z"/><path d="M33.7,176.9 22.4,175.4 18.4,173.4 19.9,171.7 25.5,170.2 32.9,170.6 37.9,171.8 39.5,174.8 36.2,176.3Z"/><path d="M101.3,183.0 104.2,185.3 96.4,188.3 90.8,188.9 85.7,187.8 84.6,185.1 88.2,183.3 99.4,181.5Z"/><path d="M254.4,195.4 255.4,193.1 257.3,192.0 266.6,191.5 270.8,192.2 273.3,193.7 273.7,196.4 269.4,197.7 264.5,197.9 255.7,196.4Z"/><path d="M178.8,174.3 174.6,176.7 167.6,177.0 161.8,174.3 161.3,171.6 168.3,170.7 176.0,171.8Z"/><path d="M75.4,183.0 69.9,179.8 70.9,176.2 79.3,176.4 87.9,178.2 88.7,181.0 84.4,182.8Z"/><path d="M140.8,181.3 145.9,180.1 152.5,180.5 152.6,184.8 150.1,187.6 142.9,188.3 137.2,187.1 135.8,185.2Z"/><path d="M215.2,171.4 222.0,171.6 226.7,173.5 226.0,177.2 223.7,178.7 218.7,179.7 211.7,178.0 210.2,176.0 210.7,173.2Z"/><path d="M126.3,183.5 123.6,181.7 123.5,178.8 124.6,177.6 131.6,176.3 134.4,177.4 137.9,179.2 140.3,181.2 136.1,183.5 131.1,184.6Z"/><path d="M59.9,185.7 64.3,188.8 64.6,191.3 61.4,191.9 54.0,192.0 48.3,190.8 43.9,188.9 43.6,186.7 47.7,185.2 55.0,185.4Z"/><path d="M68.5,192.9 66.5,192.3 64.3,190.2 64.7,187.9 67.4,186.2 74.5,186.9 78.7,187.6 79.6,189.5 80.4,191.9 75.0,193.4Z"/><path d="M140.0,177.8 143.1,175.9 148.5,175.0 155.3,175.8 158.9,177.9 158.0,180.3 152.9,181.5 143.7,181.8 140.1,180.0Z"/><path d="M64.0,152.0 68.0,149.5 75.0,150.0 77.0,154.0 75.0,159.0 68.0,160.0 64.0,157.0Z"/><path d="M40.0,165.0 44.0,161.5 51.0,162.0 53.0,166.0 50.0,170.0 43.0,170.0Z"/><path d="M99.5,162.0 103.0,160.5 111.0,161.0 113.0,164.0 111.0,167.5 101.0,167.5Z"/><path d="M100.0,169.0 104.0,167.0 112.0,167.5 114.0,170.5 111.0,173.5 101.0,173.0Z"/><path d="M13.4,157.1 17.6,160.0 27.1,160.5 32.8,159.0 31.9,155.2 28.1,150.5 21.4,150.5 15.7,152.4Z"/><path d="M28.1,149.9 30.9,154.3 33.8,159.0 40.4,159.6 51.8,159.0 63.2,157.5 68.0,155.2 66.1,152.4 57.5,148.6 48.0,147.6 32.8,148.0Z"/><path d="M12.3,164.7 13.4,169.5 19.5,171.4 32.8,170.8 38.5,168.5 41.4,164.7 38.5,161.3 25.2,160.0 14.8,160.5Z"/><path d="M32.8,171.9 33.8,177.1 40.4,179.9 49.0,179.0 52.8,175.2 49.9,170.4 44.2,166.6 36.6,168.5Z"/><path d="M85.0,161.9 82.2,160.5 70.8,159.8 57.5,160.5 51.8,164.7 49.9,173.3 55.6,177.1 70.8,177.1 83.2,174.2 85.0,172.0 85.0,173.3 88.9,172.3 90.9,165.5 88.9,161.1 85.0,161.5Z"/><path d="M90.0,158.4 100.7,159.2 109.5,157.6 110.5,152.7 104.6,149.8 92.8,148.8 90.0,149.1 90.0,148.6 86.0,148.6 78.4,149.5 75.6,153.3 76.5,158.1 82.2,160.0 90.0,160.9Z"/><path d="M108.5,151.7 112.5,158.6 120.3,160.0 130.1,159.6 134.0,156.6 132.1,151.7 126.2,148.2 114.4,149.4Z"/><path d="M88.9,161.5 88.9,167.4 89.9,173.3 94.8,175.3 101.7,174.3 103.6,168.4 102.6,162.5 96.8,160.5Z"/><path d="M100.7,161.5 101.7,165.5 104.6,168.4 112.5,167.4 113.4,163.5 110.5,160.5Z"/><path d="M114.4,164.5 115.4,168.4 119.3,171.3 132.1,172.9 143.8,171.3 148.7,165.5 147.7,159.6 139.9,157.6 128.1,158.6 117.4,161.5Z"/><path d="M137.0,150.7 139.9,157.6 147.7,159.6 148.7,170.4 155.6,169.4 161.5,164.5 165.4,157.6 161.5,152.7 151.7,149.4 139.9,148.8Z"/><path d="M159.5,152.1 163.4,157.6 167.4,159.6 172.3,156.6 170.3,151.3 163.4,150.2Z"/><path d="M198.7,147.8 200.7,153.7 208.5,156.6 220.3,157.6 226.2,155.7 228.2,149.8 224.2,144.9 214.4,142.9 204.6,144.3Z"/><path d="M192.4,155.0 185.0,155.7 185.0,156.6 173.2,157.6 163.4,160.5 159.5,165.5 161.5,169.4 167.4,171.7 183.0,172.9 186.1,172.5 200.7,173.3 214.4,172.3 220.3,168.4 221.3,162.5 218.4,157.6 210.5,155.3 204.3,155.0 207.6,153.7 202.7,150.8 194.8,150.8 190.9,152.7Z"/><path d="M222.3,159.6 224.2,167.4 234.1,171.4 249.8,171.4 267.4,171.0 275.3,167.4 279.2,159.6 279.2,148.8 275.3,143.5 263.5,142.3 243.9,143.9 231.1,147.8 224.2,153.7Z"/><path d="M271.3,161.5 271.3,167.4 274.3,171.4 279.2,169.4 280.8,163.5 277.2,159.6Z"/><path d="M259.6,173.3 259.6,175.7 263.5,177.2 273.3,178.2 282.1,177.2 283.1,173.7 277.2,171.8 267.4,171.4Z"/><path d="M223.3,179.2 228.2,185.1 238.0,186.1 250.7,185.1 255.6,180.2 254.7,174.3 249.8,169.4 239.9,171.4 228.2,174.3Z"/><path d="M255.6,179.2 254.7,184.1 257.6,186.7 265.5,186.1 269.4,182.2 267.4,177.6 259.6,177.2Z"/><path d="M267.4,182.2 267.4,186.1 271.3,188.6 279.2,188.0 282.1,184.1 279.2,180.2 272.3,179.6Z"/><path d="M275.3,189.0 276.2,192.6 282.1,193.9 290.0,193.3 291.9,190.0 288.0,187.1 279.2,187.1Z"/><path d="M68.3,250.7 72.5,250.3 77.3,252.0 77.4,253.9 76.5,256.1 72.1,257.6 69.2,257.9 64.1,256.3 63.6,254.4 63.1,252.4Z"/><path d="M111.4,274.9 111.9,270.9 116.8,270.5 120.6,270.8 125.4,273.2 124.6,276.1 120.5,277.1 115.5,277.2Z"/><path d="M253.1,253.1 256.2,253.0 260.2,254.1 261.0,255.9 260.0,257.8 256.7,258.9 251.9,258.5 248.7,257.5 249.4,256.1 250.5,253.5Z"/><path d="M23.5,243.0 26.2,241.3 29.0,240.7 32.8,241.9 35.0,243.8 34.3,244.7 32.9,246.3 28.2,246.9 25.3,246.1 23.5,245.6Z"/><path d="M105.6,255.1 108.1,252.3 114.9,250.9 120.7,252.0 121.9,253.8 121.9,256.4 113.8,257.7 106.9,256.9Z"/><path d="M200.1,270.8 203.2,273.0 202.0,275.2 200.4,276.2 194.1,277.4 190.6,276.8 188.8,274.9 188.1,273.2 190.2,271.1 195.1,270.5Z"/><path d="M65.3,275.9 62.2,274.5 61.2,272.8 64.0,270.8 68.7,270.2 74.0,270.6 78.0,272.6 77.0,274.5 74.3,275.6 67.8,275.9Z"/><path d="M208.7,238.4 206.6,240.7 201.9,240.8 195.9,239.7 192.2,237.1 193.8,234.5 197.3,233.5 205.6,234.3 210.1,237.1Z"/><path d="M251.2,276.6 254.9,275.4 259.7,275.7 263.7,276.3 266.6,279.1 264.8,281.2 263.5,281.9 256.9,282.1 253.9,281.2 250.5,278.4Z"/><path d="M157.2,231.8 155.4,233.5 149.7,234.4 143.7,233.2 143.3,230.0 143.9,228.4 149.1,227.7 156.8,229.3Z"/><path d="M144.4,270.7 138.3,269.9 137.2,267.9 140.8,265.2 146.0,265.6 153.4,266.7 153.2,268.1 151.9,270.5Z"/><path d="M143.1,274.8 149.8,274.1 152.8,276.4 152.4,279.9 147.2,281.0 142.1,280.9 140.9,277.2Z"/><path d="M223.6,240.5 226.0,239.3 228.9,239.2 232.6,239.6 235.8,241.3 235.3,244.2 233.5,245.5 231.2,246.0 226.2,245.1 223.7,243.5Z"/><path d="M37.9,278.8 38.1,281.3 33.9,282.3 29.8,282.3 26.5,280.4 26.5,278.7 29.1,276.9 33.3,276.7 37.2,277.3Z"/><path d="M268.6,257.0 273.0,256.7 276.1,259.1 275.7,261.2 273.7,263.1 267.8,262.9 265.5,261.7 264.2,258.7Z"/><path d="M43.8,276.6 38.0,277.1 33.9,276.3 32.2,273.4 33.5,271.6 36.2,270.8 43.4,270.8 47.6,271.4 48.3,273.6 49.2,275.3Z"/><path d="M255.6,246.6 252.6,245.7 251.8,243.3 254.0,241.0 257.7,240.3 259.9,239.9 262.9,242.1 262.7,244.5 260.6,246.1Z"/><path d="M111.7,240.6 116.0,240.4 121.7,240.0 125.3,241.8 125.4,243.8 123.5,245.8 117.6,247.0 113.6,246.5 111.2,245.2 110.7,243.2Z"/><path d="M128.0,269.7 135.2,268.8 138.5,270.7 138.8,273.4 131.1,275.8 126.2,274.8 124.3,272.6Z"/><path d="M94.0,235.4 94.2,237.6 92.1,239.6 89.8,239.9 85.4,239.6 83.7,237.9 84.4,235.6 85.7,234.7 90.1,233.4 92.2,234.1Z"/><path d="M127.5,251.5 121.5,249.8 121.2,248.1 123.0,245.6 126.8,244.9 133.0,245.9 135.7,247.0 135.1,250.4 132.4,252.0Z"/><path d="M227.4,268.9 223.5,268.0 223.5,265.5 226.8,263.6 233.7,262.4 239.9,263.4 239.2,265.0 237.2,268.3 232.6,268.8Z"/><path d="M256.5,269.6 252.3,267.8 251.2,265.8 253.3,264.8 257.5,264.2 261.2,264.7 265.2,266.4 266.5,268.9 264.2,269.8 259.5,270.2Z"/><path d="M188.7,239.8 193.6,239.5 195.4,241.0 194.9,244.2 191.1,245.4 186.5,245.8 182.3,245.1 180.9,242.5 182.3,240.5Z"/><path d="M107.6,253.8 101.9,253.3 97.5,251.3 97.7,247.4 104.8,247.0 111.2,248.3 110.9,250.8Z"/><path d="M244.8,263.2 237.8,261.9 237.1,260.0 242.1,257.8 248.5,257.7 252.9,260.0 252.4,262.6Z"/><path d="M169.9,259.4 171.9,258.0 175.3,257.6 180.5,258.3 181.6,260.4 181.6,261.6 178.6,263.6 173.3,263.6 169.9,262.6Z"/><path d="M24.8,254.2 27.5,252.2 29.6,251.0 35.6,251.1 38.3,252.6 40.6,255.1 38.3,256.7 32.5,257.8 27.9,257.2Z"/><path d="M209.3,244.1 206.7,245.9 202.4,246.3 197.5,246.1 194.9,245.0 193.7,242.6 196.8,241.4 200.3,240.3 205.0,240.8 208.9,242.3Z"/><path d="M86.6,241.7 87.5,245.0 82.5,246.6 73.3,245.6 71.9,242.6 73.8,239.8 81.4,240.1Z"/><path d="M262.7,239.8 260.6,236.4 261.5,235.0 265.8,233.6 271.9,234.5 273.7,235.8 270.9,239.7 267.3,239.8Z"/><path d="M234.8,257.7 227.5,258.3 222.0,257.7 220.4,254.4 225.8,252.8 233.8,253.2 237.2,254.8Z"/><path d="M152.6,244.3 153.2,242.0 155.1,240.1 160.7,239.7 167.8,241.7 169.9,243.5 168.5,246.5 163.5,247.6 157.3,246.4Z"/><path d="M26.4,263.3 20.8,262.7 19.4,260.0 19.7,258.7 24.2,256.8 28.2,256.9 31.0,257.7 32.0,260.6 30.3,262.9Z"/><path d="M38.4,266.2 40.4,263.3 49.0,262.6 53.1,264.7 54.0,267.2 48.6,269.0 41.9,269.0Z"/><path d="M175.2,275.0 173.4,271.0 178.1,268.4 183.5,268.6 188.8,269.7 189.3,273.3 182.2,274.7Z"/><path d="M55.6,258.5 50.7,258.5 48.5,257.2 48.5,255.0 51.7,253.5 57.0,253.2 61.2,253.3 63.8,254.6 63.5,257.0 59.6,258.0Z"/><path d="M108.9,240.2 110.7,242.6 110.5,246.0 106.0,247.1 100.9,246.0 100.1,242.5 103.1,240.2Z"/><path d="M51.3,276.8 51.5,278.6 49.4,280.9 43.9,282.1 40.1,281.8 38.0,279.0 38.3,276.8 42.7,275.6 46.8,275.4Z"/><path d="M247.1,258.7 243.8,258.6 238.4,258.0 237.0,255.6 237.2,253.2 240.0,252.0 245.3,252.5 248.8,253.6 249.2,255.6Z"/><path d="M230.6,240.5 224.8,240.8 219.2,239.0 218.1,236.6 220.1,234.6 227.0,234.1 230.6,235.4 231.3,237.9Z"/><path d="M157.8,234.0 154.9,232.7 155.1,230.1 156.8,229.1 161.7,228.2 167.1,228.8 168.8,230.6 168.4,232.1 166.0,233.9 161.5,234.4Z"/><path d="M71.6,259.3 71.0,261.2 69.6,263.5 65.4,264.2 62.7,263.7 57.9,261.9 56.4,260.4 58.3,258.1 62.6,257.1 67.0,258.0Z"/><path d="M77.4,256.2 77.1,253.2 79.3,252.4 85.6,251.2 87.9,251.4 93.1,252.6 92.7,255.1 92.1,256.0 86.2,257.2 81.0,256.8Z"/><path d="M188.9,259.2 193.5,260.4 195.3,263.1 193.2,264.2 187.2,265.1 182.6,264.3 180.9,262.5 179.8,260.4 184.2,258.8Z"/><path d="M260.9,237.6 258.5,239.6 252.1,239.4 246.2,238.2 245.9,235.1 250.9,234.4 257.5,235.2Z"/><path d="M136.7,253.1 142.4,251.8 148.1,252.0 150.0,254.5 148.7,257.3 141.4,258.8 137.5,258.1 135.5,255.7Z"/><path d="M91.1,227.4 99.0,228.7 100.2,230.5 100.9,232.7 98.6,234.2 91.1,233.5 85.9,232.1 85.2,229.7 86.7,227.4Z"/><path d="M62.2,247.3 60.2,245.3 59.7,242.9 63.0,241.6 65.8,241.2 70.4,241.9 71.8,243.0 71.6,245.1 69.9,247.5 65.6,247.7Z"/><path d="M268.2,239.7 275.5,240.2 278.0,242.2 274.7,244.9 268.3,244.9 261.9,243.5 261.6,240.5Z"/><path d="M161.1,275.9 156.6,276.5 152.6,276.0 150.4,273.2 150.7,272.0 153.8,270.3 159.0,270.5 163.6,272.3 164.7,274.3Z"/><path d="M197.7,263.9 193.8,261.6 194.1,260.0 195.2,258.2 200.3,257.4 205.2,258.5 206.9,260.5 207.6,262.8 205.7,263.5 202.0,264.5Z"/><path d="M218.8,281.8 213.7,282.0 209.2,281.2 206.5,279.0 208.5,277.0 214.3,275.7 218.6,276.5 220.1,277.7 220.0,280.9Z"/><path d="M207.8,256.8 207.3,254.9 209.3,253.6 214.9,252.7 217.3,253.0 220.4,254.9 220.3,256.7 218.7,258.5 213.6,259.0 209.5,258.6Z"/><path d="M231.4,279.6 231.1,277.5 234.5,276.4 237.9,275.8 240.5,276.5 241.7,278.9 241.0,280.4 238.1,282.0 232.6,282.0Z"/><path d="M23.1,270.9 28.8,270.7 33.4,272.2 33.0,273.6 31.3,275.2 27.9,276.2 22.2,276.4 17.8,276.2 16.9,274.1 17.8,272.3Z"/><path d="M78.4,264.2 82.1,264.2 85.6,266.7 84.5,269.0 78.6,270.8 75.2,269.7 74.8,266.4Z"/><path d="M215.8,268.6 220.2,268.8 225.0,269.7 225.4,271.9 224.7,273.6 220.7,274.7 215.6,274.3 213.4,273.3 213.1,270.9Z"/><path d="M116.8,234.3 120.4,234.7 122.1,236.3 122.9,238.1 120.4,240.0 117.7,240.8 112.7,240.3 110.8,238.8 110.2,237.2 111.6,235.5Z"/><path d="M156.1,260.6 161.2,259.0 168.5,258.9 171.9,261.6 171.3,263.5 164.8,265.0 159.8,265.3 156.4,263.0Z"/><path d="M223.4,261.3 221.7,260.1 222.7,258.0 229.0,257.0 234.1,257.8 236.5,259.3 236.2,261.8 235.2,262.8 228.1,262.8Z"/><path d="M129.3,277.0 131.5,274.6 133.6,274.0 137.4,274.9 140.5,276.8 141.0,278.7 139.2,280.8 135.6,281.2 131.6,280.9 129.6,279.5Z"/><path d="M117.1,276.7 122.6,274.7 127.3,274.9 130.3,277.1 131.3,279.8 126.0,281.6 120.9,281.1 118.6,279.3Z"/><path d="M41.9,230.3 42.7,232.8 37.6,235.0 31.2,234.9 28.7,232.4 30.9,229.2 34.7,228.7Z"/><path d="M186.2,258.6 183.7,257.1 182.7,255.2 185.2,253.3 189.0,253.0 193.3,254.1 196.3,256.0 196.9,257.4 193.7,259.2 191.6,259.5Z"/><path d="M48.7,229.5 54.6,230.5 57.1,232.3 57.2,234.5 54.2,234.9 48.3,235.3 41.9,233.9 40.5,232.0 41.9,230.1Z"/><path d="M54.1,235.2 58.0,236.7 59.0,238.8 53.8,240.9 48.1,240.4 44.9,239.1 44.0,235.8 48.6,234.3Z"/><path d="M101.0,266.9 100.8,269.4 95.6,271.0 87.5,270.7 85.0,269.2 85.5,266.7 91.1,264.2 96.5,264.7Z"/><path d="M102.6,275.8 104.9,278.4 102.5,280.7 95.4,280.9 92.3,279.6 92.9,276.4 95.6,275.1Z"/><path d="M281.5,251.7 273.7,251.3 270.0,249.9 268.7,247.1 275.9,246.0 284.9,246.9 285.3,249.2Z"/><path d="M122.3,246.3 122.0,250.3 116.5,251.8 112.7,251.2 108.9,248.0 111.1,245.4 116.9,244.5Z"/><path d="M201.2,271.7 203.6,269.5 209.1,269.0 213.4,270.5 213.7,272.9 211.5,275.5 208.5,275.6 203.4,274.2Z"/><path d="M163.0,274.8 163.4,273.0 165.2,270.9 169.4,270.3 172.1,270.7 174.4,271.8 173.9,274.7 174.1,276.2 168.8,277.2 166.2,276.7Z"/><path d="M272.1,229.7 273.0,232.6 270.7,234.1 266.3,234.1 262.8,233.5 258.1,231.4 258.1,229.5 260.6,228.2 264.7,227.3 268.5,228.0Z"/><path d="M179.0,233.5 173.6,235.4 170.2,235.0 167.3,234.1 167.0,231.9 169.1,230.2 171.6,229.4 176.7,228.8 179.5,230.4 179.7,231.8Z"/><path d="M214.5,268.3 212.8,265.4 214.8,264.1 218.9,263.0 225.0,263.9 225.2,265.6 224.0,267.6 220.1,268.8Z"/><path d="M214.6,268.8 211.9,270.0 206.0,270.3 204.0,268.3 205.7,264.6 210.9,264.4 214.7,265.8Z"/><path d="M231.8,279.6 228.8,281.4 223.9,281.5 221.5,280.3 219.9,278.0 221.2,275.3 227.5,275.2 232.4,277.2Z"/><path d="M159.6,240.2 156.1,238.6 158.0,234.6 163.6,233.3 167.9,234.7 169.3,238.1 165.1,241.0Z"/><path d="M48.8,270.3 56.0,268.9 61.2,270.6 63.1,272.9 60.0,274.5 53.5,274.7 48.3,272.9Z"/><path d="M156.1,234.6 157.6,236.8 157.9,239.5 154.1,240.9 150.8,241.5 146.6,240.8 145.0,239.4 144.7,237.6 148.5,235.0 152.5,234.4Z"/><path d="M144.2,265.3 139.8,265.2 136.0,264.3 135.9,260.1 138.7,258.9 143.9,258.7 146.9,260.6 147.4,263.8Z"/><path d="M85.9,252.9 83.6,251.2 85.1,248.1 91.2,247.1 97.7,247.8 98.7,250.3 96.5,252.4 90.7,253.1Z"/><path d="M110.9,266.2 115.8,263.6 121.2,264.5 123.2,265.8 122.0,268.7 116.8,269.7 112.0,269.0Z"/><path d="M274.1,261.4 275.0,259.1 280.4,257.7 283.7,257.5 290.3,258.5 291.5,260.6 287.3,262.7 282.2,263.2 278.4,263.2Z"/><path d="M112.6,274.6 107.4,275.8 102.1,275.8 99.2,273.1 100.4,270.9 104.8,269.8 112.2,270.0 112.1,271.8Z"/><path d="M22.7,236.4 28.7,235.3 33.9,235.8 35.0,238.6 30.8,241.0 25.8,241.6 21.8,239.1Z"/><path d="M262.7,262.9 259.6,263.3 255.6,263.6 252.2,262.7 251.3,261.2 253.9,258.9 258.7,258.2 261.9,257.9 266.0,258.8 266.6,260.7Z"/><path d="M58.7,228.2 67.0,228.7 70.5,230.4 71.2,232.6 68.9,235.3 65.6,236.1 58.1,234.3 56.3,232.1 56.7,230.6Z"/><path d="M125.3,257.6 121.4,254.7 121.8,252.7 127.8,252.1 133.7,253.1 138.1,255.9 136.0,257.7 129.2,258.1Z"/><path d="M190.9,234.8 185.5,235.0 180.8,234.2 178.5,232.5 178.8,229.4 181.3,227.9 188.9,228.7 192.3,229.5 192.7,232.5Z"/><path d="M202.5,232.4 205.3,230.3 212.5,229.0 218.2,229.9 220.2,232.8 217.3,234.4 209.9,235.7 205.0,235.1Z"/><path d="M218.4,264.4 212.5,264.1 209.3,262.6 206.3,259.4 209.0,258.0 215.1,257.0 221.2,258.2 222.8,260.7 223.6,262.5Z"/><path d="M232.1,239.7 230.1,238.3 233.1,235.1 236.5,234.3 240.9,234.2 245.5,236.5 245.7,237.8 244.1,239.9 236.7,241.1Z"/><path d="M135.8,235.0 136.6,238.0 133.7,239.6 126.8,239.7 122.1,237.8 122.8,235.4 129.1,234.3Z"/><path d="M94.5,237.2 97.0,234.4 105.5,232.8 109.7,234.0 110.6,236.8 105.0,239.4 96.9,239.4Z"/><path d="M179.7,240.3 174.0,241.4 169.2,240.8 168.5,238.6 172.9,236.1 179.3,235.9 182.6,238.4Z"/><path d="M105.3,275.2 112.9,275.1 117.3,277.3 115.8,280.2 110.7,280.6 103.8,278.8 103.1,276.3Z"/><path d="M204.2,230.8 203.4,233.0 200.3,235.6 195.6,235.5 192.3,234.8 191.0,232.0 191.8,230.7 197.1,229.3 200.6,229.2Z"/><path d="M271.6,258.4 266.9,258.1 261.5,257.2 258.2,254.9 259.4,253.0 263.7,251.3 269.3,251.0 274.6,253.7 273.6,255.8Z"/><path d="M104.4,269.9 101.4,267.6 101.0,265.4 103.7,264.1 106.9,263.9 110.3,265.0 112.0,267.1 111.2,268.7 108.1,270.2Z"/><path d="M85.0,229.7 85.5,231.2 85.0,233.3 76.6,235.1 73.4,234.8 69.4,233.1 70.7,231.4 73.8,229.6 80.8,228.8Z"/><path d="M34.3,241.5 40.3,240.1 49.1,241.2 51.2,244.4 46.8,247.0 40.3,246.8 33.6,244.6Z"/><path d="M38.6,258.5 42.5,259.8 42.4,262.5 38.6,264.6 35.0,264.3 30.0,262.3 30.2,260.3 34.3,258.8Z"/><path d="M181.1,238.1 181.6,235.7 184.9,233.9 187.2,233.7 193.5,233.8 195.5,236.9 193.7,238.9 189.4,240.2 186.1,240.8Z"/><path d="M73.4,281.3 70.4,281.4 65.3,280.5 64.0,279.1 65.1,276.7 71.6,275.6 76.6,275.7 79.1,277.8 78.4,279.5Z"/><path d="M172.8,282.0 167.9,281.0 166.6,280.2 166.6,277.4 170.3,275.7 176.0,274.9 178.9,275.0 180.9,277.1 180.5,279.2 176.8,281.7Z"/><path d="M224.2,253.1 219.1,253.3 216.9,252.4 216.1,249.9 216.5,248.4 221.1,247.6 227.3,247.7 229.1,249.0 229.0,251.6Z"/><path d="M37.5,263.4 39.0,264.4 39.9,266.8 38.1,268.4 33.4,269.0 28.4,267.9 27.9,266.2 27.9,264.7 30.8,263.5Z"/><path d="M52.7,277.0 58.5,276.3 63.5,276.6 65.2,278.9 64.9,281.2 62.0,283.0 56.6,282.3 52.6,281.5 50.9,278.2Z"/><path d="M236.0,273.3 236.8,274.9 233.9,276.9 229.5,277.0 226.1,277.1 224.8,274.2 225.5,271.5 230.6,270.9 233.8,271.1Z"/><path d="M92.9,270.0 96.5,269.7 99.2,270.5 101.3,272.0 101.4,274.8 97.3,276.2 93.4,276.9 91.8,276.4 89.7,274.7 89.0,272.1Z"/><path d="M45.6,250.5 47.2,247.9 51.1,247.4 54.2,247.4 57.2,248.9 57.4,251.8 54.8,252.9 51.0,253.0 45.6,251.8Z"/><path d="M42.1,258.9 38.5,256.6 41.2,252.9 45.7,252.7 50.1,254.8 49.1,257.6 46.4,259.5Z"/><path d="M120.2,230.8 121.5,228.9 127.7,228.3 130.4,229.0 134.1,232.1 131.6,234.4 126.6,234.8 121.3,233.4Z"/><path d="M187.5,276.6 192.6,277.1 195.2,278.5 195.1,281.3 190.2,282.5 187.5,282.6 182.4,282.0 180.0,280.0 179.9,279.0 183.6,277.0Z"/><path d="M99.6,231.5 103.2,229.4 105.8,229.3 109.1,229.9 110.5,233.1 110.0,234.1 106.1,235.8 103.3,236.3 100.0,234.8 98.4,233.0Z"/><path d="M237.8,269.1 237.8,266.8 237.9,264.7 244.2,263.5 249.8,263.6 252.8,266.1 252.7,267.7 247.5,270.0 242.3,270.2Z"/><path d="M227.9,250.5 231.8,247.8 237.1,247.2 241.4,247.7 244.9,249.8 242.8,251.8 238.4,253.1 233.8,253.5 230.4,252.8Z"/><path d="M141.9,240.9 137.8,241.4 134.8,239.7 135.5,236.3 139.3,235.0 144.4,234.5 146.2,236.8 145.7,239.4Z"/><path d="M26.5,246.7 30.2,246.3 34.7,247.4 35.4,250.2 32.5,252.3 27.5,252.7 24.4,251.6 23.0,248.8Z"/><path d="M272.2,275.3 268.0,275.4 264.4,275.2 263.4,272.7 264.8,269.9 269.6,269.4 273.6,269.1 276.6,270.0 276.8,272.7Z"/><path d="M53.0,267.5 52.2,265.9 54.8,263.0 58.1,262.2 61.7,262.5 65.5,263.9 65.0,266.4 63.1,268.0 58.3,269.4 56.5,269.3Z"/><path d="M153.5,251.9 148.3,251.0 146.2,248.0 147.1,245.7 154.0,244.9 161.0,246.6 162.2,249.0 160.1,252.0Z"/><path d="M33.9,249.7 34.1,247.5 38.6,245.9 41.7,245.8 46.7,247.6 46.4,250.1 46.0,252.2 43.4,252.8 36.9,252.7 33.4,251.5Z"/><path d="M150.2,255.6 149.9,253.8 154.1,252.9 159.5,253.2 161.3,254.8 161.4,256.2 158.5,258.5 154.3,258.5 151.0,257.3Z"/><path d="M267.0,269.3 265.7,267.9 266.1,265.8 269.8,264.5 277.6,265.1 280.7,266.0 281.3,268.1 279.5,269.9 272.5,270.3Z"/><path d="M239.5,275.1 236.7,273.7 236.1,270.0 238.5,269.1 247.1,270.0 250.8,272.4 251.3,274.3 246.4,275.6Z"/><path d="M18.8,264.3 23.4,263.7 27.3,265.5 26.5,268.2 23.7,269.1 17.7,269.9 14.1,268.0 15.2,265.8Z"/><path d="M80.5,246.6 85.2,247.2 85.2,248.4 85.6,250.6 81.3,251.9 74.4,253.0 71.2,252.9 70.1,250.4 69.5,248.6 76.2,247.0Z"/><path d="M78.8,241.2 73.1,240.0 71.8,238.0 75.6,234.8 80.8,234.4 84.7,236.8 83.4,240.1Z"/><path d="M260.0,230.2 259.3,232.6 255.9,234.1 249.8,234.1 244.4,233.5 243.7,231.5 244.6,230.2 249.7,228.7 256.6,229.0Z"/><path d="M61.4,242.7 60.8,245.5 55.1,246.0 51.6,245.3 49.5,243.3 50.6,239.8 53.3,239.1 59.3,240.0Z"/><path d="M146.1,250.2 142.4,251.5 138.0,251.6 134.3,250.6 133.6,248.5 136.3,246.7 139.5,246.0 144.0,246.6 146.3,247.6Z"/><path d="M244.8,233.1 241.6,234.9 238.7,235.3 235.1,234.3 233.0,231.6 233.5,230.5 237.6,229.5 242.7,229.8 244.6,231.6Z"/><path d="M69.9,269.3 64.9,267.6 63.8,265.9 65.1,263.9 67.9,263.4 73.6,263.7 75.1,264.9 75.5,267.1 73.4,269.2Z"/><path d="M175.3,252.2 174.0,250.7 176.2,247.6 181.1,246.2 184.2,246.2 190.4,247.2 189.6,248.8 189.0,251.4 185.4,252.3 179.7,253.4Z"/><path d="M189.8,263.9 198.1,262.8 204.1,264.3 204.0,267.3 199.6,270.0 192.5,269.6 187.7,266.8Z"/><path d="M100.1,244.0 100.3,246.0 94.2,247.4 92.0,247.8 86.2,246.6 86.4,243.8 88.2,242.1 94.6,241.4 97.8,241.9Z"/><path d="M171.5,256.5 172.8,253.6 175.5,252.7 180.7,253.4 183.1,255.8 182.3,258.4 179.4,258.8 175.3,258.5Z"/><path d="M163.2,269.1 156.7,269.4 153.0,268.0 152.4,265.6 153.6,263.7 161.9,263.4 165.3,264.4 166.9,266.7Z"/><path d="M164.9,266.6 165.7,264.1 168.3,263.3 175.9,264.2 178.2,265.2 178.1,268.6 177.2,270.4 170.6,271.0 165.6,269.5Z"/><path d="M175.3,247.5 174.9,250.3 167.3,251.5 162.2,250.3 161.8,248.4 166.4,245.7 172.5,245.7Z"/><path d="M45.3,235.6 45.5,238.2 42.4,240.6 40.1,240.9 35.6,240.7 34.0,238.2 33.2,236.0 35.2,234.3 39.1,234.0 42.9,234.2Z"/><path d="M213.5,241.3 208.2,240.6 208.0,237.7 208.8,235.4 213.6,234.8 216.9,235.1 219.1,236.7 220.0,239.9 216.8,241.4Z"/><path d="M208.6,277.3 208.3,280.7 203.0,282.4 195.1,282.1 194.1,278.2 196.9,275.6 204.1,275.4Z"/><path d="M64.6,247.3 68.8,247.9 71.8,249.9 68.4,252.7 62.9,252.1 57.7,251.2 56.1,248.6 56.5,246.9Z"/><path d="M116.1,258.1 122.6,259.8 122.9,262.8 119.1,264.2 113.2,263.5 108.6,260.7 110.9,258.9Z"/><path d="M97.4,261.2 96.8,257.9 102.9,256.6 108.8,257.9 111.0,260.7 106.6,262.9 101.7,263.0Z"/><path d="M246.3,281.4 241.0,280.2 240.8,278.2 243.3,275.8 247.8,275.8 251.4,276.7 251.7,279.7 249.4,281.5Z"/><path d="M82.8,268.6 87.0,269.2 88.7,271.3 88.4,272.6 87.7,274.7 84.0,275.0 80.6,274.7 77.4,272.8 77.0,270.2 78.8,268.4Z"/><path d="M143.2,230.9 143.9,233.1 142.8,234.9 137.0,235.1 131.9,233.7 132.1,232.2 134.9,229.8 139.7,229.8Z"/><path d="M170.8,252.7 171.7,255.4 169.5,257.5 166.0,258.2 161.0,257.2 160.6,255.4 161.5,253.4 165.9,252.2Z"/><path d="M187.4,263.7 189.3,265.9 188.8,267.7 186.2,268.5 181.8,268.5 178.9,266.9 178.7,265.2 180.7,263.3 183.5,263.0Z"/><path d="M128.1,264.7 135.4,265.2 137.0,266.6 135.8,269.6 132.8,270.3 126.1,270.2 122.3,267.7 121.9,265.7Z"/><path d="M223.2,244.3 214.5,246.3 208.5,245.6 209.2,242.0 215.0,240.0 221.0,239.1 223.7,241.6Z"/><path d="M244.0,251.4 243.8,249.1 246.9,247.7 251.2,247.0 256.3,247.1 259.0,248.7 258.9,251.7 256.5,252.2 250.7,252.8 245.6,252.7Z"/><path d="M165.8,276.7 168.0,277.8 167.2,280.9 163.7,281.8 158.2,282.5 154.5,282.2 152.7,280.1 152.2,278.5 156.4,276.1 159.7,276.2Z"/><path d="M72.3,240.0 67.2,241.7 59.9,241.6 57.7,238.8 59.3,236.0 64.5,234.7 70.3,235.5 73.8,238.5Z"/><path d="M44.7,259.1 51.2,258.5 56.9,259.4 59.2,261.0 59.1,262.4 55.8,263.8 52.1,264.4 44.6,263.5 42.6,262.7 41.6,260.8Z"/><path d="M153.9,243.2 152.7,245.4 148.1,246.2 144.9,246.0 138.6,243.9 137.5,242.1 139.1,240.3 143.8,239.1 147.7,239.8 153.9,241.5Z"/><path d="M110.2,234.7 109.9,231.7 114.0,229.3 117.4,229.4 121.9,231.5 121.3,234.3 118.7,235.7 112.3,236.2Z"/><path d="M150.6,264.8 146.9,264.3 145.5,262.1 148.4,259.5 152.4,258.7 155.9,259.7 157.1,262.0 154.5,264.2Z"/><path d="M204.4,252.8 207.6,254.3 207.8,257.0 200.5,258.3 197.1,257.6 195.3,255.3 199.4,253.0Z"/><path d="M202.1,251.3 201.7,248.1 204.4,246.2 212.6,246.2 217.3,247.7 218.2,250.6 213.6,253.3 206.8,253.0Z"/><path d="M96.7,257.4 92.9,255.7 93.2,253.2 95.2,250.9 99.0,251.1 106.2,252.3 107.8,254.3 107.7,255.6 104.4,257.6Z"/><path d="M131.1,245.9 124.5,245.6 122.6,243.7 124.2,240.6 131.3,239.3 136.8,240.0 140.3,242.6 138.3,245.0Z"/><path d="M193.5,245.5 200.4,245.5 201.9,248.2 200.5,251.6 194.7,252.1 190.4,250.9 190.0,248.3Z"/><path d="M98.5,262.1 95.9,264.0 90.9,263.8 86.5,262.9 85.5,261.7 85.5,258.5 86.7,256.9 92.0,256.7 95.7,257.4 97.6,258.9Z"/><path d="M245.2,241.3 251.0,242.0 253.1,244.3 252.0,245.4 247.5,247.1 242.3,247.5 237.6,246.8 235.0,245.6 236.4,242.6 239.7,242.1Z"/><path d="M168.4,240.9 172.8,239.5 177.9,239.6 183.6,241.9 182.8,244.8 175.6,245.9 169.6,245.0Z"/><path d="M250.8,275.3 250.1,273.3 251.7,270.8 255.5,270.1 260.5,270.6 264.3,272.0 264.9,275.3 264.3,276.7 258.3,277.6 253.3,276.4Z"/><path d="M132.5,264.9 125.9,265.4 121.8,262.3 123.6,260.3 131.6,259.0 135.1,259.6 136.6,263.2Z"/><path d="M91.8,277.0 94.2,279.2 91.1,282.0 83.2,282.6 76.5,280.4 78.3,278.0 82.9,276.7Z"/><path d="M71.0,260.5 72.6,258.6 78.0,258.5 82.6,259.2 85.6,261.3 85.6,263.1 83.0,264.7 78.3,264.7 70.3,262.9Z"/><path d="M148.8,270.7 150.4,273.0 149.6,275.7 146.1,276.5 140.4,275.6 137.9,272.8 139.8,271.0 145.1,270.0Z"/><path d="M232.1,229.8 234.9,231.7 233.2,234.5 227.8,235.6 222.4,234.7 218.3,233.0 218.8,229.7 225.8,229.2Z"/><path d="M269.0,249.9 264.4,251.6 262.4,251.2 258.4,250.8 256.4,248.1 257.9,246.9 262.1,245.5 265.6,245.1 268.1,246.1 269.8,248.2Z"/></g><text x="156.7" y="57.0" text-anchor="middle">Flat substrate</text><text x="159.3" y="137.8" text-anchor="middle">MesoAl<tspan style="font-size:11px" dy="3.5">2</tspan><tspan dy="-3.5">O</tspan><tspan style="font-size:11px" dy="3.5">3</tspan><tspan dy="-3.5">+ capping layer</tspan></text><text x="156.5" y="218.7" text-anchor="middle">MesoAl<tspan style="font-size:11px" dy="3.5">2</tspan><tspan dy="-3.5">O</tspan><tspan style="font-size:11px" dy="3.5">3</tspan></text>
<path d="M382.5,47V276" stroke="#a8a8a8" stroke-width="1"/><path d="M382,275.5H683" stroke="#9a9a9a" stroke-width="1"/><path d="M382,47.5H683" stroke="#b0b0b0" stroke-width="1"/><path d="M682.6,47V276" stroke="#555" stroke-width="1.2"/><path d="M382.5,275.22h3 M382.5,258.94h2 M382.5,242.66h3 M382.5,226.38h2 M382.5,210.10h3 M382.5,193.82h2 M382.5,177.54h3 M382.5,161.26h2 M382.5,144.98h3 M382.5,128.70h2 M382.5,112.42h3 M382.5,96.14h2 M382.5,79.86h3 M382.5,63.58h2 M382.5,47.30h3 M403.84,275.5v-3.5 M425.27,275.5v-2 M446.71,275.5v-3.5 M468.14,275.5v-2 M489.58,275.5v-3.5 M511.02,275.5v-2 M532.45,275.5v-3.5 M553.89,275.5v-2 M575.32,275.5v-3.5 M596.76,275.5v-2 M618.20,275.5v-3.5 M639.63,275.5v-2 M661.07,275.5v-3.5 M682.50,275.5v-2 M400.62,47.5v2 M422.01,47.5v3 M444.02,47.5v2 M466.68,47.5v3 M490.02,47.5v2 M514.06,47.5v3 M538.84,47.5v2 M564.39,47.5v3 M590.76,47.5v2 M617.97,47.5v3 M646.08,47.5v2 M675.13,47.5v3" stroke="#333" stroke-width="1" fill="none"/><text x="376.5" y="279.82" text-anchor="end">0.2</text><text x="376.5" y="247.26" text-anchor="end">0.3</text><text x="376.5" y="214.70" text-anchor="end">0.4</text><text x="376.5" y="182.14" text-anchor="end">0.5</text><text x="376.5" y="149.58" text-anchor="end">0.6</text><text x="376.5" y="117.02" text-anchor="end">0.7</text><text x="376.5" y="84.46" text-anchor="end">0.8</text><text x="376.5" y="51.90" text-anchor="end">0.9</text><text x="403.84" y="291.8" text-anchor="middle">700</text><text x="446.71" y="291.8" text-anchor="middle">720</text><text x="489.58" y="291.8" text-anchor="middle">740</text><text x="532.45" y="291.8" text-anchor="middle">760</text><text x="575.32" y="291.8" text-anchor="middle">780</text><text x="618.20" y="291.8" text-anchor="middle">800</text><text x="661.07" y="291.8" text-anchor="middle">820</text><text x="422.01" y="40.4" text-anchor="middle">1.75</text><text x="466.68" y="40.4" text-anchor="middle">1.7</text><text x="514.06" y="40.4" text-anchor="middle">1.65</text><text x="564.39" y="40.4" text-anchor="middle">1.6</text><text x="617.97" y="40.4" text-anchor="middle">1.55</text><text x="675.13" y="40.4" text-anchor="middle">1.5</text><text x="532.6" y="16.2" text-anchor="middle">Energy (eV)</text><text x="532.6" y="312.7" text-anchor="middle" style="letter-spacing:0.08px">Wavelength (nm)</text><text transform="translate(343.7,162.3) rotate(-90)" text-anchor="middle" style="font-size:14px;letter-spacing:0.1px">Optical density (arb.units)</text><path d="M382.40,149.80 C383.83,150.00 386.69,150.42 390.97,151.00 C395.26,151.58 402.41,152.67 408.12,153.30 C413.84,153.93 419.56,154.35 425.27,154.80 C430.99,155.25 436.70,155.67 442.42,156.00 C448.14,156.33 453.85,157.10 459.57,156.80 C465.29,156.50 472.25,155.95 476.72,154.20 C481.19,152.45 483.54,149.83 486.40,146.30 C489.26,142.77 492.17,136.73 493.87,133.00 C495.57,129.27 495.61,128.27 496.60,123.90 C497.59,119.53 498.80,112.45 499.80,106.80 C500.80,101.15 501.75,94.73 502.60,90.00 C503.45,85.27 504.03,82.90 504.90,78.40 C505.77,73.90 506.85,66.47 507.80,63.00 C508.75,59.53 509.77,57.52 510.60,57.60 C511.43,57.68 512.10,60.03 512.80,63.50 C513.50,66.97 513.85,71.18 514.80,78.40 C515.75,85.62 517.62,98.20 518.50,106.80 C519.38,115.40 519.52,122.80 520.10,130.00 C520.68,137.20 521.28,142.88 522.00,150.00 C522.72,157.12 523.37,163.05 524.40,172.70 C525.43,182.35 526.53,198.63 528.16,207.90 C529.80,217.17 531.34,221.92 534.20,228.30 C537.06,234.68 540.60,241.33 545.31,246.20 C550.02,251.07 556.75,254.73 562.46,257.50 C568.18,260.27 573.89,261.40 579.61,262.80 C585.33,264.20 591.04,265.03 596.76,265.90 C602.48,266.77 608.19,267.12 613.91,268.00 C619.63,268.88 625.34,270.32 631.06,271.20 C636.77,272.08 642.49,272.80 648.21,273.30 C653.92,273.80 661.72,274.03 665.36,274.20 C668.99,274.37 669.23,274.28 670.00,274.30" stroke="#1c1c8a" stroke-width="1.5" fill="none"/><rect x="389.12" y="149.15" width="3.7" height="3.7" rx="0.8" fill="#1c1c8a"/><rect x="406.27" y="151.45" width="3.7" height="3.7" rx="0.8" fill="#1c1c8a"/><rect x="423.42" y="152.95" width="3.7" height="3.7" rx="0.8" fill="#1c1c8a"/><rect x="440.57" y="154.15" width="3.7" height="3.7" rx="0.8" fill="#1c1c8a"/><rect x="457.72" y="154.95" width="3.7" height="3.7" rx="0.8" fill="#1c1c8a"/><rect x="474.87" y="152.35" width="3.7" height="3.7" rx="0.8" fill="#1c1c8a"/><rect x="492.02" y="131.15" width="3.7" height="3.7" rx="0.8" fill="#1c1c8a"/><rect x="509.17" y="55.75" width="3.7" height="3.7" rx="0.8" fill="#1c1c8a"/><rect x="526.31" y="206.05" width="3.7" height="3.7" rx="0.8" fill="#1c1c8a"/><rect x="543.46" y="244.35" width="3.7" height="3.7" rx="0.8" fill="#1c1c8a"/><rect x="560.61" y="255.65" width="3.7" height="3.7" rx="0.8" fill="#1c1c8a"/><rect x="577.76" y="260.95" width="3.7" height="3.7" rx="0.8" fill="#1c1c8a"/><rect x="594.91" y="264.05" width="3.7" height="3.7" rx="0.8" fill="#1c1c8a"/><rect x="612.06" y="266.15" width="3.7" height="3.7" rx="0.8" fill="#1c1c8a"/><rect x="629.21" y="269.35" width="3.7" height="3.7" rx="0.8" fill="#1c1c8a"/><rect x="646.36" y="271.45" width="3.7" height="3.7" rx="0.8" fill="#1c1c8a"/><rect x="663.51" y="272.35" width="3.7" height="3.7" rx="0.8" fill="#1c1c8a"/><rect x="509.17" y="55.75" width="3.7" height="3.7" rx="0.8" fill="#1c1c8a"/><path d="M382.40,205.00 C384.19,205.33 389.55,206.33 393.12,207.00 C396.69,207.67 400.26,208.35 403.84,209.00 C407.41,209.65 410.98,210.33 414.55,210.90 C418.13,211.47 421.70,212.02 425.27,212.40 C428.84,212.78 432.42,212.67 435.99,213.20 C439.56,213.73 443.14,214.93 446.71,215.60 C450.28,216.27 453.85,216.68 457.43,217.20 C461.00,217.72 464.57,218.40 468.14,218.70 C471.72,219.00 475.29,218.98 478.86,219.00 C482.43,219.02 486.01,218.87 489.58,218.80 C493.15,218.73 496.73,218.73 500.30,218.60 C503.87,218.47 507.44,217.18 511.02,218.00 C514.59,218.82 518.16,220.37 521.73,223.50 C525.31,226.63 528.88,232.87 532.45,236.80 C536.02,240.73 539.60,244.28 543.17,247.10 C546.74,249.92 550.32,251.95 553.89,253.70 C557.46,255.45 561.03,256.27 564.61,257.60 C568.18,258.93 571.75,260.40 575.32,261.70 C578.90,263.00 582.47,264.35 586.04,265.40 C589.61,266.45 593.19,267.27 596.76,268.00 C600.33,268.73 603.91,269.35 607.48,269.80 C611.05,270.25 614.62,270.42 618.20,270.70 C621.77,270.98 625.34,271.27 628.91,271.50 C632.49,271.73 636.06,271.93 639.63,272.10 C643.20,272.27 646.78,272.42 650.35,272.50 C653.92,272.58 657.50,272.58 661.07,272.60 C664.64,272.62 668.21,272.68 671.79,272.60 C675.36,272.52 680.72,272.18 682.50,272.10" stroke="#ee1c24" stroke-width="1.5" fill="none"/><rect x="380.55" y="203.15" width="3.7" height="3.7" rx="0.8" fill="#ee1c24"/><rect x="391.27" y="205.15" width="3.7" height="3.7" rx="0.8" fill="#ee1c24"/><rect x="401.99" y="207.15" width="3.7" height="3.7" rx="0.8" fill="#ee1c24"/><rect x="412.70" y="209.05" width="3.7" height="3.7" rx="0.8" fill="#ee1c24"/><rect x="423.42" y="210.55" width="3.7" height="3.7" rx="0.8" fill="#ee1c24"/><rect x="434.14" y="211.35" width="3.7" height="3.7" rx="0.8" fill="#ee1c24"/><rect x="444.86" y="213.75" width="3.7" height="3.7" rx="0.8" fill="#ee1c24"/><rect x="455.58" y="215.35" width="3.7" height="3.7" rx="0.8" fill="#ee1c24"/><rect x="466.29" y="216.85" width="3.7" height="3.7" rx="0.8" fill="#ee1c24"/><rect x="477.01" y="217.15" width="3.7" height="3.7" rx="0.8" fill="#ee1c24"/><rect x="487.73" y="216.95" width="3.7" height="3.7" rx="0.8" fill="#ee1c24"/><rect x="498.45" y="216.75" width="3.7" height="3.7" rx="0.8" fill="#ee1c24"/><rect x="509.17" y="216.15" width="3.7" height="3.7" rx="0.8" fill="#ee1c24"/><rect x="519.88" y="221.65" width="3.7" height="3.7" rx="0.8" fill="#ee1c24"/><rect x="530.60" y="234.95" width="3.7" height="3.7" rx="0.8" fill="#ee1c24"/><rect x="541.32" y="245.25" width="3.7" height="3.7" rx="0.8" fill="#ee1c24"/><rect x="552.04" y="251.85" width="3.7" height="3.7" rx="0.8" fill="#ee1c24"/><rect x="562.76" y="255.75" width="3.7" height="3.7" rx="0.8" fill="#ee1c24"/><rect x="573.47" y="259.85" width="3.7" height="3.7" rx="0.8" fill="#ee1c24"/><rect x="584.19" y="263.55" width="3.7" height="3.7" rx="0.8" fill="#ee1c24"/><rect x="594.91" y="266.15" width="3.7" height="3.7" rx="0.8" fill="#ee1c24"/><rect x="605.63" y="267.95" width="3.7" height="3.7" rx="0.8" fill="#ee1c24"/><rect x="616.35" y="268.85" width="3.7" height="3.7" rx="0.8" fill="#ee1c24"/><rect x="627.06" y="269.65" width="3.7" height="3.7" rx="0.8" fill="#ee1c24"/><rect x="637.78" y="270.25" width="3.7" height="3.7" rx="0.8" fill="#ee1c24"/><rect x="648.50" y="270.65" width="3.7" height="3.7" rx="0.8" fill="#ee1c24"/><rect x="659.22" y="270.75" width="3.7" height="3.7" rx="0.8" fill="#ee1c24"/><rect x="669.94" y="270.75" width="3.7" height="3.7" rx="0.8" fill="#ee1c24"/><rect x="680.65" y="270.25" width="3.7" height="3.7" rx="0.8" fill="#ee1c24"/><path d="M382.40,204.10 C384.19,204.43 389.55,205.43 393.12,206.10 C396.69,206.77 400.26,207.47 403.84,208.10 C407.41,208.73 410.98,209.35 414.55,209.90 C418.13,210.45 421.70,210.97 425.27,211.40 C428.84,211.83 432.42,212.12 435.99,212.50 C439.56,212.88 443.14,213.42 446.71,213.70 C450.28,213.98 453.85,214.10 457.43,214.20 C461.00,214.30 464.57,214.27 468.14,214.30 C471.72,214.33 475.29,214.12 478.86,214.40 C482.43,214.68 486.01,214.68 489.58,216.00 C493.15,217.32 496.73,218.42 500.30,222.30 C503.87,226.18 507.44,233.22 511.02,239.30 C514.59,245.38 518.16,254.70 521.73,258.80 C525.31,262.90 528.88,262.82 532.45,263.90 C536.02,264.98 539.60,264.90 543.17,265.30 C546.74,265.70 550.32,265.98 553.89,266.30 C557.46,266.62 561.03,267.00 564.61,267.20 C568.18,267.40 571.75,267.42 575.32,267.50 C578.90,267.58 582.47,267.62 586.04,267.70 C589.61,267.78 593.19,267.72 596.76,268.00 C600.33,268.28 603.91,269.05 607.48,269.40 C611.05,269.75 614.62,269.92 618.20,270.10 C621.77,270.28 625.34,270.48 628.91,270.50 C632.49,270.52 636.06,270.25 639.63,270.20 C643.20,270.15 646.78,270.18 650.35,270.20 C653.92,270.22 657.50,270.28 661.07,270.30 C664.64,270.32 668.21,270.30 671.79,270.30 C675.36,270.30 680.72,270.30 682.50,270.30" stroke="#8e1418" stroke-width="1.5" fill="none"/><rect x="380.55" y="202.25" width="3.7" height="3.7" rx="0.8" fill="#8e1418"/><rect x="391.27" y="204.25" width="3.7" height="3.7" rx="0.8" fill="#8e1418"/><rect x="401.99" y="206.25" width="3.7" height="3.7" rx="0.8" fill="#8e1418"/><rect x="412.70" y="208.05" width="3.7" height="3.7" rx="0.8" fill="#8e1418"/><rect x="423.42" y="209.55" width="3.7" height="3.7" rx="0.8" fill="#8e1418"/><rect x="434.14" y="210.65" width="3.7" height="3.7" rx="0.8" fill="#8e1418"/><rect x="444.86" y="211.85" width="3.7" height="3.7" rx="0.8" fill="#8e1418"/><rect x="455.58" y="212.35" width="3.7" height="3.7" rx="0.8" fill="#8e1418"/><rect x="466.29" y="212.45" width="3.7" height="3.7" rx="0.8" fill="#8e1418"/><rect x="477.01" y="212.55" width="3.7" height="3.7" rx="0.8" fill="#8e1418"/><rect x="487.73" y="214.15" width="3.7" height="3.7" rx="0.8" fill="#8e1418"/><rect x="498.45" y="220.45" width="3.7" height="3.7" rx="0.8" fill="#8e1418"/><rect x="509.17" y="237.45" width="3.7" height="3.7" rx="0.8" fill="#8e1418"/><rect x="519.88" y="256.95" width="3.7" height="3.7" rx="0.8" fill="#8e1418"/><rect x="530.60" y="262.05" width="3.7" height="3.7" rx="0.8" fill="#8e1418"/><rect x="541.32" y="263.45" width="3.7" height="3.7" rx="0.8" fill="#8e1418"/><rect x="552.04" y="264.45" width="3.7" height="3.7" rx="0.8" fill="#8e1418"/><rect x="562.76" y="265.35" width="3.7" height="3.7" rx="0.8" fill="#8e1418"/><rect x="573.47" y="265.65" width="3.7" height="3.7" rx="0.8" fill="#8e1418"/><rect x="584.19" y="265.85" width="3.7" height="3.7" rx="0.8" fill="#8e1418"/><rect x="594.91" y="266.15" width="3.7" height="3.7" rx="0.8" fill="#8e1418"/><rect x="605.63" y="267.55" width="3.7" height="3.7" rx="0.8" fill="#8e1418"/><rect x="616.35" y="268.25" width="3.7" height="3.7" rx="0.8" fill="#8e1418"/><rect x="627.06" y="268.65" width="3.7" height="3.7" rx="0.8" fill="#8e1418"/><rect x="637.78" y="268.35" width="3.7" height="3.7" rx="0.8" fill="#8e1418"/><rect x="648.50" y="268.35" width="3.7" height="3.7" rx="0.8" fill="#8e1418"/><rect x="659.22" y="268.45" width="3.7" height="3.7" rx="0.8" fill="#8e1418"/><rect x="669.94" y="268.45" width="3.7" height="3.7" rx="0.8" fill="#8e1418"/><rect x="680.65" y="268.45" width="3.7" height="3.7" rx="0.8" fill="#8e1418"/><path d="M532.5,63.6H564.2" stroke="#1c1c8a" stroke-width="1.8"/><rect x="546.50" y="61.80" width="3.6" height="3.6" rx="0.8" fill="#1c1c8a"/><path d="M532.5,80.8H564.2" stroke="#ee1c24" stroke-width="1.8"/><rect x="546.50" y="79.00" width="3.6" height="3.6" rx="0.8" fill="#ee1c24"/><path d="M532.5,115.0H564.2" stroke="#8e1418" stroke-width="1.8"/><rect x="546.50" y="113.20" width="3.6" height="3.6" rx="0.8" fill="#8e1418"/><text x="573.0" y="69.3">Flat substrate</text><text x="573.0" y="85.0">MesoAl<tspan style="font-size:11px" dy="3.5">2</tspan><tspan dy="-3.5">O</tspan><tspan style="font-size:11px" dy="3.5">3</tspan></text><text x="580.8" y="102.6">+Capping layer</text><text x="573.0" y="120.5">MesoAl<tspan style="font-size:11px" dy="3.5">2</tspan><tspan dy="-3.5">O</tspan><tspan style="font-size:11px" dy="3.5">3</tspan></text><text x="333.4" y="17.8" style="font-weight:bold;font-size:20px">b</text>
</svg>
</body></html>
